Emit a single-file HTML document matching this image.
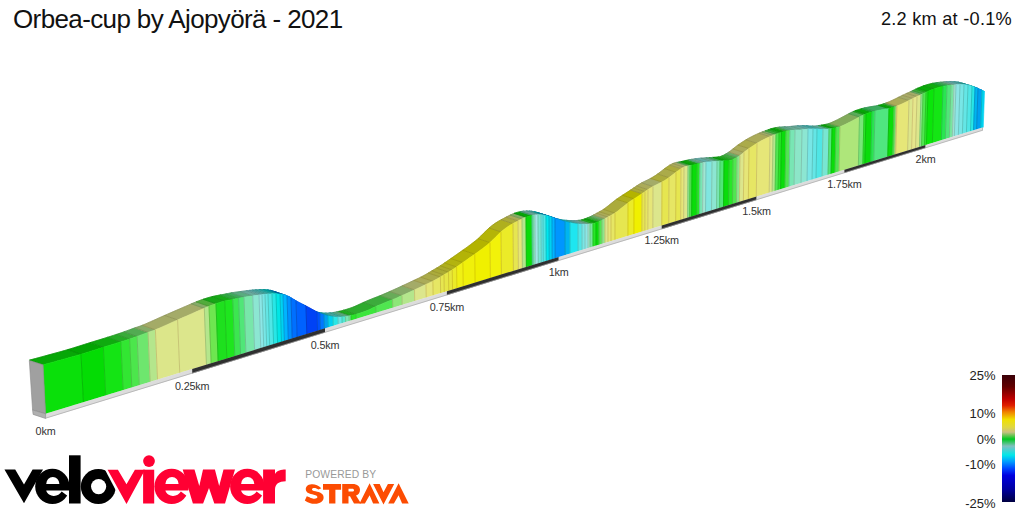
<!DOCTYPE html>
<html><head><meta charset="utf-8"><style>
html,body{margin:0;padding:0;background:#fff;}
body{width:1024px;height:512px;position:relative;overflow:hidden;font-family:"Liberation Sans",sans-serif;}
.t{position:absolute;white-space:nowrap;color:#111;}
#title{left:13px;top:3.5px;font-size:26px;letter-spacing:-0.62px;}
#sub{right:12px;top:8.5px;font-size:18.2px;letter-spacing:0.25px;}
#pw{position:absolute;left:305.3px;top:469px;font-size:10.3px;color:#999;letter-spacing:0.1px;white-space:nowrap;}
.lg{position:absolute;right:28.5px;font-size:13px;margin-top:0.5px;color:#222;text-align:right;}
#bar{position:absolute;left:1002px;top:375px;width:13px;height:127px;
background:linear-gradient(to bottom,#3a0008 0%,#600000 9%,#c00000 19%,#e02000 24%,#f08000 29%,#f0e000 35%,#e0d840 41%,#c8c080 45%,#00c820 50.5%,#80c0c0 56%,#00e8e8 63%,#00a0ff 68%,#0040ff 74%,#0000e0 79%,#0000a0 90%,#000040 100%);}
</style></head><body>
<svg width="1024" height="512" viewBox="0 0 1024 512" style="position:absolute;left:0;top:0">
<g stroke-width="0.6" stroke-linejoin="round">
<polygon points="43,364.81 45.92,364.04 48.85,363.24 51.77,362.44 54.69,361.64 57.62,360.83 60.54,360.02 63.46,359.21 66.38,358.41 69.31,357.61 72.23,356.8 75.15,355.98 78.08,355.14 81,354.28 67.68,349.65 64.74,350.5 61.81,351.34 58.88,352.15 55.95,352.95 53.01,353.75 50.08,354.55 47.15,355.35 44.21,356.16 41.28,356.96 38.35,357.75 35.42,358.55 32.48,359.34 29.55,360.11" fill="#07a707" stroke="#07a707"/>
<polygon points="81,354.28 83.8,353.44 86.6,352.57 89.4,351.69 92.2,350.8 95,349.9 97.8,349 100.6,348.11 103.4,347.23 90.15,342.64 87.34,343.52 84.53,344.4 81.72,345.3 78.91,346.19 76.11,347.08 73.3,347.95 70.49,348.81 67.68,349.65" fill="#03a403" stroke="#03a403"/>
<polygon points="103.4,347.23 106.32,346.32 109.23,345.43 112.15,344.53 115.07,343.63 117.98,342.73 120.9,341.82 107.71,337.26 104.78,338.17 101.86,339.06 98.93,339.96 96.01,340.85 93.08,341.74 90.15,342.64" fill="#0faa0f" stroke="#0faa0f"/>
<polygon points="120.9,341.82 123.8,340.89 126.7,339.94 129.6,338.98 116.44,334.44 113.53,335.39 110.62,336.34 107.71,337.26" fill="#25ab25" stroke="#25ab25"/>
<polygon points="129.6,338.98 132.1,338.14 134.6,337.29 137.1,336.41 123.96,331.88 121.46,332.75 118.95,333.6 116.44,334.44" fill="#39ab39" stroke="#39ab39"/>
<polygon points="137.1,336.41 139.82,335.41 142.55,334.4 145.28,333.38 148,332.39 134.9,327.88 132.17,328.87 129.43,329.88 126.7,330.89 123.96,331.88" fill="#52ab52" stroke="#52ab52"/>
<polygon points="148,332.39 150.47,331.55 152.93,330.73 155.4,329.8 142.33,325.3 139.85,326.23 137.38,327.05 134.9,327.88" fill="#86ab68" stroke="#86ab68"/>
<polygon points="155.4,329.8 158.18,328.62 160.95,327.41 163.72,326.17 166.5,324.92 169.28,323.66 172.05,322.4 174.82,321.16 177.6,319.92 164.6,315.46 161.82,316.69 159.03,317.94 156.25,319.19 153.46,320.44 150.68,321.69 147.89,322.92 145.11,324.13 142.33,325.3" fill="#a4ab67" stroke="#a4ab67"/>
<polygon points="177.6,319.92 180.57,318.61 183.53,317.31 186.5,316.01 189.47,314.71 192.43,313.42 195.4,312.12 198.37,310.83 201.33,309.54 204.3,308.25 191.39,303.84 188.41,305.13 185.44,306.41 182.46,307.7 179.48,308.99 176.51,310.28 173.53,311.57 170.55,312.86 167.58,314.16 164.6,315.46" fill="#a4ab68" stroke="#a4ab68"/>
<polygon points="204.3,308.25 206.65,307.24 209,306.28 196.11,301.88 193.75,302.84 191.39,303.84" fill="#86ab68" stroke="#86ab68"/>
<polygon points="209,306.28 211.33,305.37 213.67,304.49 216,303.67 203.13,299.28 200.79,300.1 198.45,300.97 196.11,301.88" fill="#52ab3c" stroke="#52ab3c"/>
<polygon points="216,303.67 218.92,302.72 221.83,301.83 224.75,301.04 211.91,296.67 208.98,297.46 206.06,298.33 203.13,299.28" fill="#16a716" stroke="#16a716"/>
<polygon points="224.75,301.04 227.42,300.42 230.08,299.89 232.75,299.38 219.94,295.03 217.26,295.53 214.58,296.05 211.91,296.67" fill="#16ab16" stroke="#16ab16"/>
<polygon points="232.75,299.38 235.68,298.86 238.6,298.33 225.8,293.98 222.87,294.51 219.94,295.03" fill="#2dab3c" stroke="#2dab3c"/>
<polygon points="238.6,298.33 241.3,297.75 244,297.19 231.22,292.85 228.51,293.4 225.8,293.98" fill="#3cab59" stroke="#3cab59"/>
<polygon points="244,297.19 246.92,296.72 249.83,296.31 252.75,295.91 240,291.59 237.08,291.99 234.15,292.39 231.22,292.85" fill="#59ab7f" stroke="#59ab7f"/>
<polygon points="252.75,295.91 254.83,295.61 256.92,295.32 259,295.04 246.27,290.73 244.18,291 242.09,291.29 240,291.59" fill="#68ab9c" stroke="#68ab9c"/>
<polygon points="259,295.04 262,294.68 249.28,290.38 246.27,290.73" fill="#68abab" stroke="#68abab"/>
<polygon points="262,294.68 265,294.34 252.29,290.04 249.28,290.38" fill="#59abab" stroke="#59abab"/>
<polygon points="265,294.34 268,294.06 255.3,289.77 252.29,290.04" fill="#4aabab" stroke="#4aabab"/>
<polygon points="268,294.06 270,293.94 272,293.85 259.32,289.57 257.31,289.65 255.3,289.77" fill="#3cabab" stroke="#3cabab"/>
<polygon points="272,293.85 274,293.8 276,293.81 263.33,289.53 261.32,289.52 259.32,289.57" fill="#1eabab" stroke="#1eabab"/>
<polygon points="276,293.81 278,293.89 280,294.08 267.34,289.8 265.34,289.61 263.33,289.53" fill="#00abab" stroke="#00abab"/>
<polygon points="280,294.08 283,294.58 270.35,290.31 267.34,289.8" fill="#009cb3" stroke="#009cb3"/>
<polygon points="283,294.58 285,295.08 287,295.75 274.37,291.49 272.36,290.82 270.35,290.31" fill="#0086be" stroke="#0086be"/>
<polygon points="287,295.75 289,296.62 291,297.72 278.38,293.47 276.37,292.36 274.37,291.49" fill="#006bbe" stroke="#006bbe"/>
<polygon points="291,297.72 293.5,299.28 296,300.78 283.4,296.54 280.89,295.03 278.38,293.47" fill="#0053be" stroke="#0053be"/>
<polygon points="296,300.78 298.5,302.14 301,303.45 303.5,304.74 306,306.04 293.43,301.82 290.92,300.51 288.41,299.21 285.91,297.91 283.4,296.54" fill="#0049be" stroke="#0049be"/>
<polygon points="306,306.04 308.75,307.48 311.5,308.94 314.25,310.5 317,312.06 304.47,307.85 301.71,306.29 298.95,304.72 296.19,303.26 293.43,301.82" fill="#0031b7" stroke="#0031b7"/>
<polygon points="317,312.06 320,313.3 307.48,309.1 304.47,307.85" fill="#003cbe" stroke="#003cbe"/>
<polygon points="320,313.3 322,313.97 324,314.72 311.49,310.53 309.48,309.78 307.48,309.1" fill="#0059be" stroke="#0059be"/>
<polygon points="324,314.72 326,315.4 328,315.93 315.5,311.74 313.5,311.21 311.49,310.53" fill="#0077b3" stroke="#0077b3"/>
<polygon points="328,315.93 330.5,316.46 333,316.89 320.52,312.71 318.01,312.28 315.5,311.74" fill="#009bb3" stroke="#009bb3"/>
<polygon points="333,316.89 335.5,317.15 338,317.23 325.54,313.06 323.03,312.98 320.52,312.71" fill="#1eabab" stroke="#1eabab"/>
<polygon points="338,317.23 340,317.16 342,317.02 329.55,312.86 327.54,313 325.54,313.06" fill="#4aabab" stroke="#4aabab"/>
<polygon points="342,317.02 343.75,316.86 345.5,316.68 333.06,312.52 331.31,312.71 329.55,312.86" fill="#3cab9c" stroke="#3cab9c"/>
<polygon points="345.5,316.68 347.25,316.38 349,316.01 336.57,311.86 334.82,312.23 333.06,312.52" fill="#59ab86" stroke="#59ab86"/>
<polygon points="349,316.01 351,315.59 338.58,311.44 336.57,311.86" fill="#59ab77" stroke="#59ab77"/>
<polygon points="351,315.59 353.5,315.02 356,314.34 343.6,310.2 341.09,310.88 338.58,311.44" fill="#1eab1e" stroke="#1eab1e"/>
<polygon points="356,314.34 358.82,313.5 361.64,312.61 364.46,311.62 367.29,310.48 370.11,309.21 372.93,307.87 375.75,306.56 363.41,302.46 360.58,303.76 357.75,305.1 354.92,306.37 352.09,307.5 349.26,308.48 346.43,309.37 343.6,310.2" fill="#2dab2d" stroke="#2dab2d"/>
<polygon points="375.75,306.56 378.56,305.33 381.37,304.14 384.18,302.98 386.98,301.87 389.79,300.78 392.6,299.66 380.32,295.59 377.5,296.71 374.68,297.79 371.87,298.9 369.05,300.05 366.23,301.23 363.41,302.46" fill="#3cab3c" stroke="#3cab3c"/>
<polygon points="392.6,299.66 394.95,298.67 397.3,297.66 399.65,296.62 402,295.58 389.75,291.53 387.39,292.57 385.04,293.6 382.68,294.6 380.32,295.59" fill="#68ab59" stroke="#68ab59"/>
<polygon points="402,295.58 404.5,294.46 407,293.33 409.5,292.19 412,291.04 414.5,289.88 402.29,285.85 399.79,287 397.28,288.15 394.77,289.28 392.26,290.41 389.75,291.53" fill="#86ab68" stroke="#86ab68"/>
<polygon points="414.5,289.88 417.38,288.53 420.25,287.16 423.12,285.79 426,284.43 413.83,280.43 410.95,281.78 408.06,283.15 405.18,284.51 402.29,285.85" fill="#a4ab68" stroke="#a4ab68"/>
<polygon points="426,284.43 428.3,283.38 430.6,282.32 432.9,281.2 420.76,277.2 418.45,278.32 416.14,279.37 413.83,280.43" fill="#abab59" stroke="#abab59"/>
<polygon points="432.9,281.2 435.4,279.87 437.9,278.46 440.4,277.01 428.28,273.03 425.77,274.47 423.26,275.87 420.76,277.2" fill="#abab4a" stroke="#abab4a"/>
<polygon points="440.4,277.01 442.2,275.92 444,274.82 431.89,270.84 430.09,271.94 428.28,273.03" fill="#abab3c" stroke="#abab3c"/>
<polygon points="444,274.82 446.25,273.49 448.5,272.16 436.41,268.19 434.15,269.51 431.89,270.84" fill="#abab34" stroke="#abab34"/>
<polygon points="448.5,272.16 450.38,271.02 452.25,269.85 440.17,265.89 438.29,267.06 436.41,268.19" fill="#abab2d" stroke="#abab2d"/>
<polygon points="452.25,269.85 454.43,268.41 456.6,266.93 444.53,262.97 442.35,264.46 440.17,265.89" fill="#afaf1e" stroke="#afaf1e"/>
<polygon points="456.6,266.93 458.7,265.47 460.8,264 462.9,262.52 450.86,258.58 448.75,260.05 446.64,261.52 444.53,262.97" fill="#b3b30f" stroke="#b3b30f"/>
<polygon points="462.9,262.52 465.86,260.44 468.82,258.37 471.79,256.29 474.75,254.2 462.75,250.28 459.77,252.36 456.8,254.44 453.83,256.51 450.86,258.58" fill="#b3b307" stroke="#b3b307"/>
<polygon points="474.75,254.2 477.29,252.41 479.83,250.56 482.38,248.65 484.92,246.71 487.46,244.71 490,242.58 478.05,238.69 475.5,240.82 472.95,242.81 470.4,244.74 467.85,246.65 465.3,248.49 462.75,250.28" fill="#b3b300" stroke="#b3b300"/>
<polygon points="490,242.58 492.75,239.95 495.5,237.15 498.25,234.45 501,231.87 489.08,228 486.32,230.57 483.56,233.26 480.81,236.06 478.05,238.69" fill="#b4b407" stroke="#b4b407"/>
<polygon points="501,231.87 504,229.38 507,227.2 510,225.28 513,223.6 501.12,219.75 498.11,221.43 495.1,223.34 492.09,225.52 489.08,228" fill="#afaf1e" stroke="#afaf1e"/>
<polygon points="513,223.6 515.5,222.25 518,220.96 506.14,217.12 503.63,218.41 501.12,219.75" fill="#abab3c" stroke="#abab3c"/>
<polygon points="518,220.96 520,219.92 522,218.91 510.15,215.08 508.15,216.08 506.14,217.12" fill="#abab59" stroke="#abab59"/>
<polygon points="522,218.91 524,217.98 526,217.14 514.17,213.31 512.16,214.15 510.15,215.08" fill="#86ab68" stroke="#86ab68"/>
<polygon points="526,217.14 529,216.22 532,215.51 520.19,211.69 517.18,212.4 514.17,213.31" fill="#07a407" stroke="#07a407"/>
<polygon points="532,215.51 533,215.29 521.19,211.48 520.19,211.69" fill="#3cab77" stroke="#3cab77"/>
<polygon points="533,215.29 535,214.95 523.2,211.14 521.19,211.48" fill="#59ab86" stroke="#59ab86"/>
<polygon points="535,214.95 538,214.72 526.21,210.91 523.2,211.14" fill="#77abab" stroke="#77abab"/>
<polygon points="538,214.72 541,214.76 529.22,210.96 526.21,210.91" fill="#59ab9c" stroke="#59ab9c"/>
<polygon points="541,214.76 543,214.94 531.22,211.15 529.22,210.96" fill="#4aabab" stroke="#4aabab"/>
<polygon points="543,214.94 546,215.46 534.23,211.67 531.22,211.15" fill="#3cabab" stroke="#3cabab"/>
<polygon points="546,215.46 549,216.27 537.24,212.49 534.23,211.67" fill="#00abb3" stroke="#00abb3"/>
<polygon points="549,216.27 552,217.2 540.25,213.42 537.24,212.49" fill="#009cb3" stroke="#009cb3"/>
<polygon points="552,217.2 555,218.21 543.26,214.44 540.25,213.42" fill="#0086be" stroke="#0086be"/>
<polygon points="555,218.21 557.5,219.11 560,220 562.5,220.88 565,221.7 553.3,217.95 550.79,217.12 548.28,216.23 545.77,215.34 543.26,214.44" fill="#0070be" stroke="#0070be"/>
<polygon points="565,221.7 567.5,222.36 570,222.91 558.31,219.16 555.81,218.61 553.3,217.95" fill="#0086b3" stroke="#0086b3"/>
<polygon points="570,222.91 572.67,223.39 575.33,223.77 578,224.06 566.34,220.32 563.67,220.03 560.99,219.65 558.31,219.16" fill="#16abb3" stroke="#16abb3"/>
<polygon points="578,224.06 580,224.2 582,224.29 570.35,220.57 568.35,220.47 566.34,220.32" fill="#3cabab" stroke="#3cabab"/>
<polygon points="582,224.29 585,224.33 573.36,220.61 570.35,220.57" fill="#59abab" stroke="#59abab"/>
<polygon points="585,224.33 588,224.23 576.37,220.52 573.36,220.61" fill="#68abab" stroke="#68abab"/>
<polygon points="588,224.23 590,224.08 578.38,220.37 576.37,220.52" fill="#77ab9c" stroke="#77ab9c"/>
<polygon points="590,224.08 593,223.63 581.39,219.92 578.38,220.37" fill="#59ab77" stroke="#59ab77"/>
<polygon points="593,223.63 596,222.77 584.4,219.07 581.39,219.92" fill="#1eab1e" stroke="#1eab1e"/>
<polygon points="596,222.77 599,221.59 587.41,217.9 584.4,219.07" fill="#07a407" stroke="#07a407"/>
<polygon points="599,221.59 602,220.27 590.42,216.58 587.41,217.9" fill="#3cab3c" stroke="#3cab3c"/>
<polygon points="602,220.27 605,218.75 593.43,215.06 590.42,216.58" fill="#68ab68" stroke="#68ab68"/>
<polygon points="605,218.75 608,217.07 596.44,213.39 593.43,215.06" fill="#a4ab68" stroke="#a4ab68"/>
<polygon points="608,217.07 611,215.45 599.45,211.77 596.44,213.39" fill="#abab59" stroke="#abab59"/>
<polygon points="611,215.45 613,214.31 615,213.07 603.46,209.4 601.46,210.64 599.45,211.77" fill="#abab4a" stroke="#abab4a"/>
<polygon points="615,213.07 617.6,211.18 620.2,209.12 622.8,207.02 625.4,204.94 628,202.94 616.51,199.3 613.9,201.29 611.29,203.37 608.68,205.46 606.07,207.51 603.46,209.4" fill="#abab3c" stroke="#abab3c"/>
<polygon points="628,202.94 631,200.86 634,198.9 622.53,195.27 619.52,197.22 616.51,199.3" fill="#afaf1e" stroke="#afaf1e"/>
<polygon points="634,198.9 636.67,197.17 639.33,195.44 642,193.69 630.56,190.08 627.88,191.82 625.2,193.54 622.53,195.27" fill="#b3b300" stroke="#b3b300"/>
<polygon points="642,193.69 645,191.65 633.57,188.04 630.56,190.08" fill="#abab3c" stroke="#abab3c"/>
<polygon points="645,191.65 648,189.6 636.58,186 633.57,188.04" fill="#abab4a" stroke="#abab4a"/>
<polygon points="648,189.6 650.5,187.96 653,186.48 641.59,182.89 639.08,184.36 636.58,186" fill="#abab59" stroke="#abab59"/>
<polygon points="653,186.48 656,184.97 659,183.53 662,181.99 650.62,178.4 647.61,179.95 644.6,181.38 641.59,182.89" fill="#a4ab68" stroke="#a4ab68"/>
<polygon points="662,181.99 664.33,180.64 666.67,179.17 669,177.58 657.65,174.01 655.3,175.6 652.96,177.06 650.62,178.4" fill="#abab3c" stroke="#abab3c"/>
<polygon points="669,177.58 671.33,175.82 673.67,173.95 676,172.18 664.67,168.62 662.33,170.39 659.99,172.25 657.65,174.01" fill="#abab4a" stroke="#abab4a"/>
<polygon points="676,172.18 678.5,170.39 681,168.71 669.69,165.17 667.18,166.84 664.67,168.62" fill="#abab3c" stroke="#abab3c"/>
<polygon points="681,168.71 684,167.1 672.7,163.56 669.69,165.17" fill="#abab59" stroke="#abab59"/>
<polygon points="684,167.1 686,166.41 688,165.96 676.71,162.42 674.7,162.87 672.7,163.56" fill="#a4ab68" stroke="#a4ab68"/>
<polygon points="688,165.96 690,165.61 678.72,162.08 676.71,162.42" fill="#68ab68" stroke="#68ab68"/>
<polygon points="690,165.61 692,165.23 680.72,161.7 678.72,162.08" fill="#3cab3c" stroke="#3cab3c"/>
<polygon points="692,165.23 694.5,164.65 697,164.05 685.74,160.53 683.23,161.12 680.72,161.7" fill="#07a407" stroke="#07a407"/>
<polygon points="697,164.05 700,163.4 688.75,159.88 685.74,160.53" fill="#1eab1e" stroke="#1eab1e"/>
<polygon points="700,163.4 703,162.83 691.76,159.32 688.75,159.88" fill="#59ab86" stroke="#59ab86"/>
<polygon points="703,162.83 706,162.34 694.77,158.84 691.76,159.32" fill="#77ab9c" stroke="#77ab9c"/>
<polygon points="706,162.34 709,161.95 712,161.66 700.79,158.17 697.78,158.45 694.77,158.84" fill="#5faba7" stroke="#5faba7"/>
<polygon points="712,161.66 714.5,161.47 717,161.3 705.81,157.81 703.3,157.98 700.79,158.17" fill="#68ab9c" stroke="#68ab9c"/>
<polygon points="717,161.3 720,161.13 708.82,157.65 705.81,157.81" fill="#59ab86" stroke="#59ab86"/>
<polygon points="720,161.13 722,161.02 724,160.87 712.83,157.4 710.82,157.54 708.82,157.65" fill="#3cab59" stroke="#3cab59"/>
<polygon points="724,160.87 726.5,160.71 729,160.5 717.85,157.04 715.34,157.24 712.83,157.4" fill="#07a407" stroke="#07a407"/>
<polygon points="729,160.5 731,160.14 733,159.48 721.86,156.03 719.85,156.68 717.85,157.04" fill="#1eab1e" stroke="#1eab1e"/>
<polygon points="733,159.48 735,158.55 737,157.43 725.87,153.98 723.87,155.1 721.86,156.03" fill="#3cab3c" stroke="#3cab3c"/>
<polygon points="737,157.43 740,155.53 728.88,152.09 725.87,153.98" fill="#68ab68" stroke="#68ab68"/>
<polygon points="740,155.53 742,154.02 744,152.37 732.9,148.94 730.89,150.59 728.88,152.09" fill="#a4ab68" stroke="#a4ab68"/>
<polygon points="744,152.37 746.5,150.37 749,148.51 737.91,145.08 735.4,146.94 732.9,148.94" fill="#abab59" stroke="#abab59"/>
<polygon points="749,148.51 751.67,146.68 754.33,144.92 757,143.23 745.94,139.82 743.26,141.5 740.59,143.26 737.91,145.08" fill="#abab4a" stroke="#abab4a"/>
<polygon points="757,143.23 759.6,141.71 762.2,140.31 764.8,139.01 767.4,137.78 770,136.63 758.98,133.24 756.37,134.38 753.77,135.61 751.16,136.91 748.55,138.3 745.94,139.82" fill="#abab59" stroke="#abab59"/>
<polygon points="770,136.63 773,135.4 761.99,132.02 758.98,133.24" fill="#a4ab68" stroke="#a4ab68"/>
<polygon points="773,135.4 776,134.28 765,130.9 761.99,132.02" fill="#86ab68" stroke="#86ab68"/>
<polygon points="776,134.28 779,133.19 768.01,129.82 765,130.9" fill="#3cab3c" stroke="#3cab3c"/>
<polygon points="779,133.19 781.5,132.33 770.52,128.96 768.01,129.82" fill="#1eab1e" stroke="#1eab1e"/>
<polygon points="781.5,132.33 783.75,131.67 786,131.16 775.04,127.8 772.78,128.31 770.52,128.96" fill="#07a407" stroke="#07a407"/>
<polygon points="786,131.16 788,130.8 790,130.52 779.05,127.17 777.04,127.45 775.04,127.8" fill="#3cab3c" stroke="#3cab3c"/>
<polygon points="790,130.52 792.5,130.26 795,130.11 784.07,126.77 781.56,126.91 779.05,127.17" fill="#59ab86" stroke="#59ab86"/>
<polygon points="795,130.11 797.33,130.04 799.67,129.93 802,129.72 791.09,126.39 788.75,126.6 786.41,126.7 784.07,126.77" fill="#68ab95" stroke="#68ab95"/>
<polygon points="802,129.72 805,129.36 808,129.07 797.11,125.75 794.1,126.03 791.09,126.39" fill="#68ab9c" stroke="#68ab9c"/>
<polygon points="808,129.07 810.5,128.94 813,128.89 802.13,125.58 799.62,125.63 797.11,125.75" fill="#59abab" stroke="#59abab"/>
<polygon points="813,128.89 815,128.89 817,128.95 806.14,125.65 804.13,125.59 802.13,125.58" fill="#4aabab" stroke="#4aabab"/>
<polygon points="817,128.95 820,129.18 823,129.35 812.16,126.06 809.15,125.88 806.14,125.65" fill="#3cabab" stroke="#3cabab"/>
<polygon points="823,129.35 826,129.24 829,128.9 818.18,125.62 815.17,125.96 812.16,126.06" fill="#59ab9c" stroke="#59ab9c"/>
<polygon points="829,128.9 832,128.47 821.19,125.2 818.18,125.62" fill="#3cab59" stroke="#3cab59"/>
<polygon points="832,128.47 834,128.12 836,127.7 825.2,124.44 823.2,124.85 821.19,125.2" fill="#07a407" stroke="#07a407"/>
<polygon points="836,127.7 838,127.26 840,126.67 829.22,123.41 827.21,124 825.2,124.44" fill="#3cab3c" stroke="#3cab3c"/>
<polygon points="840,126.67 842.79,125.53 845.57,124.24 848.36,122.87 851.14,121.41 853.93,119.89 856.71,118.4 859.5,116.95 848.78,113.73 845.99,115.17 843.19,116.66 840.4,118.17 837.6,119.63 834.81,120.99 832.01,122.28 829.22,123.41" fill="#82ab5b" stroke="#82ab5b"/>
<polygon points="859.5,116.95 861.75,115.78 864,114.71 853.3,111.5 851.04,112.56 848.78,113.73" fill="#59ab59" stroke="#59ab59"/>
<polygon points="864,114.71 866,113.91 855.3,110.7 853.3,111.5" fill="#1eab1e" stroke="#1eab1e"/>
<polygon points="866,113.91 869,112.84 872,111.91 861.33,108.71 858.32,109.63 855.3,110.7" fill="#07a407" stroke="#07a407"/>
<polygon points="872,111.91 875,111.14 864.34,107.94 861.33,108.71" fill="#1eab3c" stroke="#1eab3c"/>
<polygon points="875,111.14 877.8,110.54 880.6,109.99 883.4,109.54 886.2,109.08 889,108.49 878.38,105.32 875.57,105.91 872.76,106.36 869.95,106.81 867.14,107.35 864.34,107.94" fill="#3cab5f" stroke="#3cab5f"/>
<polygon points="889,108.49 891.5,107.84 894,107.09 883.4,103.93 880.89,104.67 878.38,105.32" fill="#07a407" stroke="#07a407"/>
<polygon points="894,107.09 896,106.41 885.41,103.25 883.4,103.93" fill="#3cab3c" stroke="#3cab3c"/>
<polygon points="896,106.41 897,106.03 886.41,102.87 885.41,103.25" fill="#86ab68" stroke="#86ab68"/>
<polygon points="897,106.03 900,104.78 903,103.41 906,101.98 909,100.47 898.45,97.33 895.44,98.84 892.43,100.26 889.42,101.63 886.41,102.87" fill="#abab59" stroke="#abab59"/>
<polygon points="909,100.47 911,99.47 913,98.48 902.46,95.35 900.46,96.34 898.45,97.33" fill="#a4ab68" stroke="#a4ab68"/>
<polygon points="913,98.48 915,97.5 917,96.57 906.48,93.45 904.47,94.38 902.46,95.35" fill="#abab68" stroke="#abab68"/>
<polygon points="917,96.57 919,95.68 921,94.77 910.49,91.66 908.48,92.56 906.48,93.45" fill="#a4ab68" stroke="#a4ab68"/>
<polygon points="921,94.77 923,93.8 912.5,90.69 910.49,91.66" fill="#68ab68" stroke="#68ab68"/>
<polygon points="923,93.8 926,92.33 915.51,89.22 912.5,90.69" fill="#3cab3c" stroke="#3cab3c"/>
<polygon points="926,92.33 928,91.4 917.51,88.3 915.51,89.22" fill="#1eab1e" stroke="#1eab1e"/>
<polygon points="928,91.4 931,90.11 934,88.93 923.53,85.84 920.52,87.01 917.51,88.3" fill="#07ab07" stroke="#07ab07"/>
<polygon points="934,88.93 937,87.92 940,87.08 943,86.4 932.56,83.32 929.55,84 926.54,84.83 923.53,85.84" fill="#0fab0f" stroke="#0fab0f"/>
<polygon points="943,86.4 945,86.02 947,85.72 936.58,82.65 934.57,82.95 932.56,83.32" fill="#1eab3c" stroke="#1eab3c"/>
<polygon points="947,85.72 949,85.47 951,85.25 940.59,82.19 938.58,82.41 936.58,82.65" fill="#3cab59" stroke="#3cab59"/>
<polygon points="951,85.25 954,84.94 943.6,81.89 940.59,82.19" fill="#59ab77" stroke="#59ab77"/>
<polygon points="954,84.94 956,84.76 945.61,81.71 943.6,81.89" fill="#77ab9c" stroke="#77ab9c"/>
<polygon points="956,84.76 958,84.62 960,84.55 949.62,81.5 947.61,81.57 945.61,81.71" fill="#68abab" stroke="#68abab"/>
<polygon points="960,84.55 962,84.53 964,84.58 953.63,81.54 951.63,81.49 949.62,81.5" fill="#59abab" stroke="#59abab"/>
<polygon points="964,84.58 966,84.72 968,85.02 957.65,81.99 955.64,81.69 953.63,81.54" fill="#4aabab" stroke="#4aabab"/>
<polygon points="968,85.02 970,85.49 972,86.12 961.66,83.1 959.65,82.47 957.65,81.99" fill="#3cabab" stroke="#3cabab"/>
<polygon points="972,86.12 975,87.22 964.67,84.2 961.66,83.1" fill="#1eabab" stroke="#1eabab"/>
<polygon points="975,87.22 978,88.45 967.68,85.44 964.67,84.2" fill="#0086b3" stroke="#0086b3"/>
<polygon points="978,88.45 980,89.37 982,90.32 971.69,87.32 969.69,86.36 967.68,85.44" fill="#0077b3" stroke="#0077b3"/>
<polygon points="982,90.32 984.5,91.56 974.2,88.56 971.69,87.32" fill="#009cb3" stroke="#009cb3"/>
</g>
<g stroke-width="0.7" stroke-linecap="butt">
<line x1="43" y1="364.81" x2="29.55" y2="360.11" stroke="#068b06"/>
<line x1="81" y1="354.28" x2="67.68" y2="349.65" stroke="#038802"/>
<line x1="103.4" y1="347.23" x2="90.15" y2="342.64" stroke="#0d8d0c"/>
<line x1="120.9" y1="341.82" x2="107.71" y2="337.26" stroke="#208f1d"/>
<line x1="129.6" y1="338.98" x2="116.44" y2="334.44" stroke="#318f2c"/>
<line x1="137.1" y1="336.41" x2="123.96" y2="331.88" stroke="#468f40"/>
<line x1="148" y1="332.39" x2="134.9" y2="327.88" stroke="#738f51"/>
<line x1="155.4" y1="329.8" x2="142.33" y2="325.3" stroke="#8d8f50"/>
<line x1="177.6" y1="319.92" x2="164.6" y2="315.46" stroke="#8d8f51"/>
<line x1="204.3" y1="308.25" x2="191.39" y2="303.84" stroke="#738f51"/>
<line x1="209" y1="306.28" x2="196.11" y2="301.88" stroke="#468f2e"/>
<line x1="216" y1="303.67" x2="203.13" y2="299.28" stroke="#138b11"/>
<line x1="224.75" y1="301.04" x2="211.91" y2="296.67" stroke="#138f11"/>
<line x1="232.75" y1="299.38" x2="219.94" y2="295.03" stroke="#268f2e"/>
<line x1="238.6" y1="298.33" x2="225.8" y2="293.98" stroke="#338f46"/>
<line x1="244" y1="297.19" x2="231.22" y2="292.85" stroke="#4d8f63"/>
<line x1="252.75" y1="295.91" x2="240" y2="291.59" stroke="#5a8f7a"/>
<line x1="259" y1="295.04" x2="246.27" y2="290.73" stroke="#5a8f85"/>
<line x1="262" y1="294.68" x2="249.28" y2="290.38" stroke="#4d8f85"/>
<line x1="265" y1="294.34" x2="252.29" y2="290.04" stroke="#408f85"/>
<line x1="268" y1="294.06" x2="255.3" y2="289.77" stroke="#338f85"/>
<line x1="272" y1="293.85" x2="259.32" y2="289.57" stroke="#1a8f85"/>
<line x1="276" y1="293.81" x2="263.33" y2="289.53" stroke="#008f85"/>
<line x1="280" y1="294.08" x2="267.34" y2="289.8" stroke="#00828b"/>
<line x1="283" y1="294.58" x2="270.35" y2="290.31" stroke="#007094"/>
<line x1="287" y1="295.75" x2="274.37" y2="291.49" stroke="#005994"/>
<line x1="291" y1="297.72" x2="278.38" y2="293.47" stroke="#004594"/>
<line x1="296" y1="300.78" x2="283.4" y2="296.54" stroke="#003d94"/>
<line x1="306" y1="306.04" x2="293.43" y2="301.82" stroke="#00298e"/>
<line x1="317" y1="312.06" x2="304.47" y2="307.85" stroke="#003294"/>
<line x1="320" y1="313.3" x2="307.48" y2="309.1" stroke="#004a94"/>
<line x1="324" y1="314.72" x2="311.49" y2="310.53" stroke="#00638b"/>
<line x1="328" y1="315.93" x2="315.5" y2="311.74" stroke="#00818b"/>
<line x1="333" y1="316.89" x2="320.52" y2="312.71" stroke="#1a8f85"/>
<line x1="338" y1="317.23" x2="325.54" y2="313.06" stroke="#408f85"/>
<line x1="342" y1="317.02" x2="329.55" y2="312.86" stroke="#338f7a"/>
<line x1="345.5" y1="316.68" x2="333.06" y2="312.52" stroke="#4d8f68"/>
<line x1="349" y1="316.01" x2="336.57" y2="311.86" stroke="#4d8f5d"/>
<line x1="351" y1="315.59" x2="338.58" y2="311.44" stroke="#1a8f17"/>
<line x1="356" y1="314.34" x2="343.6" y2="310.2" stroke="#268f23"/>
<line x1="375.75" y1="306.56" x2="363.41" y2="302.46" stroke="#338f2e"/>
<line x1="392.6" y1="299.66" x2="380.32" y2="295.59" stroke="#5a8f46"/>
<line x1="402" y1="295.58" x2="389.75" y2="291.53" stroke="#738f51"/>
<line x1="414.5" y1="289.88" x2="402.29" y2="285.85" stroke="#8d8f51"/>
<line x1="426" y1="284.43" x2="413.83" y2="280.43" stroke="#938f46"/>
<line x1="432.9" y1="281.2" x2="420.76" y2="277.2" stroke="#938f3a"/>
<line x1="440.4" y1="277.01" x2="428.28" y2="273.03" stroke="#938f2e"/>
<line x1="444" y1="274.82" x2="431.89" y2="270.84" stroke="#938f29"/>
<line x1="448.5" y1="272.16" x2="436.41" y2="268.19" stroke="#938f23"/>
<line x1="452.25" y1="269.85" x2="440.17" y2="265.89" stroke="#969217"/>
<line x1="456.6" y1="266.93" x2="444.53" y2="262.97" stroke="#9a950c"/>
<line x1="462.9" y1="262.52" x2="450.86" y2="258.58" stroke="#9a9506"/>
<line x1="474.75" y1="254.2" x2="462.75" y2="250.28" stroke="#9a9500"/>
<line x1="490" y1="242.58" x2="478.05" y2="238.69" stroke="#9b9606"/>
<line x1="501" y1="231.87" x2="489.08" y2="228" stroke="#969217"/>
<line x1="513" y1="223.6" x2="501.12" y2="219.75" stroke="#938f2e"/>
<line x1="518" y1="220.96" x2="506.14" y2="217.12" stroke="#938f46"/>
<line x1="522" y1="218.91" x2="510.15" y2="215.08" stroke="#738f51"/>
<line x1="526" y1="217.14" x2="514.17" y2="213.31" stroke="#068806"/>
<line x1="532" y1="215.51" x2="520.19" y2="211.69" stroke="#338f5d"/>
<line x1="533" y1="215.29" x2="521.19" y2="211.48" stroke="#4d8f68"/>
<line x1="535" y1="214.95" x2="523.2" y2="211.14" stroke="#668f85"/>
<line x1="538" y1="214.72" x2="526.21" y2="210.91" stroke="#4d8f7a"/>
<line x1="541" y1="214.76" x2="529.22" y2="210.96" stroke="#408f85"/>
<line x1="543" y1="214.94" x2="531.22" y2="211.15" stroke="#338f85"/>
<line x1="546" y1="215.46" x2="534.23" y2="211.67" stroke="#008f8b"/>
<line x1="549" y1="216.27" x2="537.24" y2="212.49" stroke="#00828b"/>
<line x1="552" y1="217.2" x2="540.25" y2="213.42" stroke="#007094"/>
<line x1="555" y1="218.21" x2="543.26" y2="214.44" stroke="#005d94"/>
<line x1="565" y1="221.7" x2="553.3" y2="217.95" stroke="#00708b"/>
<line x1="570" y1="222.91" x2="558.31" y2="219.16" stroke="#138f8b"/>
<line x1="578" y1="224.06" x2="566.34" y2="220.32" stroke="#338f85"/>
<line x1="582" y1="224.29" x2="570.35" y2="220.57" stroke="#4d8f85"/>
<line x1="585" y1="224.33" x2="573.36" y2="220.61" stroke="#5a8f85"/>
<line x1="588" y1="224.23" x2="576.37" y2="220.52" stroke="#668f7a"/>
<line x1="590" y1="224.08" x2="578.38" y2="220.37" stroke="#4d8f5d"/>
<line x1="593" y1="223.63" x2="581.39" y2="219.92" stroke="#1a8f17"/>
<line x1="596" y1="222.77" x2="584.4" y2="219.07" stroke="#068806"/>
<line x1="599" y1="221.59" x2="587.41" y2="217.9" stroke="#338f2e"/>
<line x1="602" y1="220.27" x2="590.42" y2="216.58" stroke="#5a8f51"/>
<line x1="605" y1="218.75" x2="593.43" y2="215.06" stroke="#8d8f51"/>
<line x1="608" y1="217.07" x2="596.44" y2="213.39" stroke="#938f46"/>
<line x1="611" y1="215.45" x2="599.45" y2="211.77" stroke="#938f3a"/>
<line x1="615" y1="213.07" x2="603.46" y2="209.4" stroke="#938f2e"/>
<line x1="628" y1="202.94" x2="616.51" y2="199.3" stroke="#969217"/>
<line x1="634" y1="198.9" x2="622.53" y2="195.27" stroke="#9a9500"/>
<line x1="642" y1="193.69" x2="630.56" y2="190.08" stroke="#938f2e"/>
<line x1="645" y1="191.65" x2="633.57" y2="188.04" stroke="#938f3a"/>
<line x1="648" y1="189.6" x2="636.58" y2="186" stroke="#938f46"/>
<line x1="653" y1="186.48" x2="641.59" y2="182.89" stroke="#8d8f51"/>
<line x1="662" y1="181.99" x2="650.62" y2="178.4" stroke="#938f2e"/>
<line x1="669" y1="177.58" x2="657.65" y2="174.01" stroke="#938f3a"/>
<line x1="676" y1="172.18" x2="664.67" y2="168.62" stroke="#938f2e"/>
<line x1="681" y1="168.71" x2="669.69" y2="165.17" stroke="#938f46"/>
<line x1="684" y1="167.1" x2="672.7" y2="163.56" stroke="#8d8f51"/>
<line x1="688" y1="165.96" x2="676.71" y2="162.42" stroke="#5a8f51"/>
<line x1="690" y1="165.61" x2="678.72" y2="162.08" stroke="#338f2e"/>
<line x1="692" y1="165.23" x2="680.72" y2="161.7" stroke="#068806"/>
<line x1="697" y1="164.05" x2="685.74" y2="160.53" stroke="#1a8f17"/>
<line x1="700" y1="163.4" x2="688.75" y2="159.88" stroke="#4d8f68"/>
<line x1="703" y1="162.83" x2="691.76" y2="159.32" stroke="#668f7a"/>
<line x1="706" y1="162.34" x2="694.77" y2="158.84" stroke="#528f82"/>
<line x1="712" y1="161.66" x2="700.79" y2="158.17" stroke="#5a8f7a"/>
<line x1="717" y1="161.3" x2="705.81" y2="157.81" stroke="#4d8f68"/>
<line x1="720" y1="161.13" x2="708.82" y2="157.65" stroke="#338f46"/>
<line x1="724" y1="160.87" x2="712.83" y2="157.4" stroke="#068806"/>
<line x1="729" y1="160.5" x2="717.85" y2="157.04" stroke="#1a8f17"/>
<line x1="733" y1="159.48" x2="721.86" y2="156.03" stroke="#338f2e"/>
<line x1="737" y1="157.43" x2="725.87" y2="153.98" stroke="#5a8f51"/>
<line x1="740" y1="155.53" x2="728.88" y2="152.09" stroke="#8d8f51"/>
<line x1="744" y1="152.37" x2="732.9" y2="148.94" stroke="#938f46"/>
<line x1="749" y1="148.51" x2="737.91" y2="145.08" stroke="#938f3a"/>
<line x1="757" y1="143.23" x2="745.94" y2="139.82" stroke="#938f46"/>
<line x1="770" y1="136.63" x2="758.98" y2="133.24" stroke="#8d8f51"/>
<line x1="773" y1="135.4" x2="761.99" y2="132.02" stroke="#738f51"/>
<line x1="776" y1="134.28" x2="765" y2="130.9" stroke="#338f2e"/>
<line x1="779" y1="133.19" x2="768.01" y2="129.82" stroke="#1a8f17"/>
<line x1="781.5" y1="132.33" x2="770.52" y2="128.96" stroke="#068806"/>
<line x1="786" y1="131.16" x2="775.04" y2="127.8" stroke="#338f2e"/>
<line x1="790" y1="130.52" x2="779.05" y2="127.17" stroke="#4d8f68"/>
<line x1="795" y1="130.11" x2="784.07" y2="126.77" stroke="#5a8f74"/>
<line x1="802" y1="129.72" x2="791.09" y2="126.39" stroke="#5a8f7a"/>
<line x1="808" y1="129.07" x2="797.11" y2="125.75" stroke="#4d8f85"/>
<line x1="813" y1="128.89" x2="802.13" y2="125.58" stroke="#408f85"/>
<line x1="817" y1="128.95" x2="806.14" y2="125.65" stroke="#338f85"/>
<line x1="823" y1="129.35" x2="812.16" y2="126.06" stroke="#4d8f7a"/>
<line x1="829" y1="128.9" x2="818.18" y2="125.62" stroke="#338f46"/>
<line x1="832" y1="128.47" x2="821.19" y2="125.2" stroke="#068806"/>
<line x1="836" y1="127.7" x2="825.2" y2="124.44" stroke="#338f2e"/>
<line x1="840" y1="126.67" x2="829.22" y2="123.41" stroke="#6f8f47"/>
<line x1="859.5" y1="116.95" x2="848.78" y2="113.73" stroke="#4d8f46"/>
<line x1="864" y1="114.71" x2="853.3" y2="111.5" stroke="#1a8f17"/>
<line x1="866" y1="113.91" x2="855.3" y2="110.7" stroke="#068806"/>
<line x1="872" y1="111.91" x2="861.33" y2="108.71" stroke="#1a8f2e"/>
<line x1="875" y1="111.14" x2="864.34" y2="107.94" stroke="#338f4a"/>
<line x1="889" y1="108.49" x2="878.38" y2="105.32" stroke="#068806"/>
<line x1="894" y1="107.09" x2="883.4" y2="103.93" stroke="#338f2e"/>
<line x1="896" y1="106.41" x2="885.41" y2="103.25" stroke="#738f51"/>
<line x1="897" y1="106.03" x2="886.41" y2="102.87" stroke="#938f46"/>
<line x1="909" y1="100.47" x2="898.45" y2="97.33" stroke="#8d8f51"/>
<line x1="913" y1="98.48" x2="902.46" y2="95.35" stroke="#938f51"/>
<line x1="917" y1="96.57" x2="906.48" y2="93.45" stroke="#8d8f51"/>
<line x1="921" y1="94.77" x2="910.49" y2="91.66" stroke="#5a8f51"/>
<line x1="923" y1="93.8" x2="912.5" y2="90.69" stroke="#338f2e"/>
<line x1="926" y1="92.33" x2="915.51" y2="89.22" stroke="#1a8f17"/>
<line x1="928" y1="91.4" x2="917.51" y2="88.3" stroke="#068f06"/>
<line x1="934" y1="88.93" x2="923.53" y2="85.84" stroke="#0d8f0c"/>
<line x1="943" y1="86.4" x2="932.56" y2="83.32" stroke="#1a8f2e"/>
<line x1="947" y1="85.72" x2="936.58" y2="82.65" stroke="#338f46"/>
<line x1="951" y1="85.25" x2="940.59" y2="82.19" stroke="#4d8f5d"/>
<line x1="954" y1="84.94" x2="943.6" y2="81.89" stroke="#668f7a"/>
<line x1="956" y1="84.76" x2="945.61" y2="81.71" stroke="#5a8f85"/>
<line x1="960" y1="84.55" x2="949.62" y2="81.5" stroke="#4d8f85"/>
<line x1="964" y1="84.58" x2="953.63" y2="81.54" stroke="#408f85"/>
<line x1="968" y1="85.02" x2="957.65" y2="81.99" stroke="#338f85"/>
<line x1="972" y1="86.12" x2="961.66" y2="83.1" stroke="#1a8f85"/>
<line x1="975" y1="87.22" x2="964.67" y2="84.2" stroke="#00708b"/>
<line x1="978" y1="88.45" x2="967.68" y2="85.44" stroke="#00638b"/>
<line x1="982" y1="90.32" x2="971.69" y2="87.32" stroke="#00828b"/>
</g>
<g stroke-width="0.55" fill="none" stroke-linejoin="round">
<polyline points="29.55,360.11 32.48,359.34 35.42,358.55 38.35,357.75 41.28,356.96 44.21,356.16 47.15,355.35 50.08,354.55 53.01,353.75 55.95,352.95 58.88,352.15 61.81,351.34 64.74,350.5 67.68,349.65" stroke="#068606"/>
<polyline points="67.68,349.65 70.49,348.81 73.3,347.95 76.11,347.08 78.91,346.19 81.72,345.3 84.53,344.4 87.34,343.52 90.15,342.64" stroke="#028402"/>
<polyline points="90.15,342.64 93.08,341.74 96.01,340.85 98.93,339.96 101.86,339.06 104.78,338.17 107.71,337.26" stroke="#0c890c"/>
<polyline points="107.71,337.26 110.62,336.34 113.53,335.39 116.44,334.44" stroke="#1e8a1e"/>
<polyline points="116.44,334.44 118.95,333.6 121.46,332.75 123.96,331.88" stroke="#2e8a2e"/>
<polyline points="123.96,331.88 126.7,330.89 129.43,329.88 132.17,328.87 134.9,327.88" stroke="#428a42"/>
<polyline points="134.9,327.88 137.38,327.05 139.85,326.23 142.33,325.3" stroke="#6c8a54"/>
<polyline points="142.33,325.3 145.11,324.13 147.89,322.92 150.68,321.69 153.46,320.44 156.25,319.19 159.03,317.94 161.82,316.69 164.6,315.46" stroke="#848a53"/>
<polyline points="164.6,315.46 167.58,314.16 170.55,312.86 173.53,311.57 176.51,310.28 179.48,308.99 182.46,307.7 185.44,306.41 188.41,305.13 191.39,303.84" stroke="#848a54"/>
<polyline points="191.39,303.84 193.75,302.84 196.11,301.88" stroke="#6c8a54"/>
<polyline points="196.11,301.88 198.45,300.97 200.79,300.1 203.13,299.28" stroke="#428a30"/>
<polyline points="203.13,299.28 206.06,298.33 208.98,297.46 211.91,296.67" stroke="#128612"/>
<polyline points="211.91,296.67 214.58,296.05 217.26,295.53 219.94,295.03" stroke="#128a12"/>
<polyline points="219.94,295.03 222.87,294.51 225.8,293.98" stroke="#248a30"/>
<polyline points="225.8,293.98 228.51,293.4 231.22,292.85" stroke="#308a48"/>
<polyline points="231.22,292.85 234.15,292.39 237.08,291.99 240,291.59" stroke="#488a66"/>
<polyline points="240,291.59 242.09,291.29 244.18,291 246.27,290.73" stroke="#548a7e"/>
<polyline points="246.27,290.73 249.28,290.38" stroke="#548a8a"/>
<polyline points="249.28,290.38 252.29,290.04" stroke="#488a8a"/>
<polyline points="252.29,290.04 255.3,289.77" stroke="#3c8a8a"/>
<polyline points="255.3,289.77 257.31,289.65 259.32,289.57" stroke="#308a8a"/>
<polyline points="259.32,289.57 261.32,289.52 263.33,289.53" stroke="#188a8a"/>
<polyline points="263.33,289.53 265.34,289.61 267.34,289.8" stroke="#008a8a"/>
<polyline points="267.34,289.8 270.35,290.31" stroke="#007e90"/>
<polyline points="270.35,290.31 272.36,290.82 274.37,291.49" stroke="#006c99"/>
<polyline points="274.37,291.49 276.37,292.36 278.38,293.47" stroke="#005699"/>
<polyline points="278.38,293.47 280.89,295.03 283.4,296.54" stroke="#004399"/>
<polyline points="283.4,296.54 285.91,297.91 288.41,299.21 290.92,300.51 293.43,301.82" stroke="#003b99"/>
<polyline points="293.43,301.82 296.19,303.26 298.95,304.72 301.71,306.29 304.47,307.85" stroke="#002893"/>
<polyline points="304.47,307.85 307.48,309.1" stroke="#003099"/>
<polyline points="307.48,309.1 309.48,309.78 311.49,310.53" stroke="#004899"/>
<polyline points="311.49,310.53 313.5,311.21 315.5,311.74" stroke="#006090"/>
<polyline points="315.5,311.74 318.01,312.28 320.52,312.71" stroke="#007d90"/>
<polyline points="320.52,312.71 323.03,312.98 325.54,313.06" stroke="#188a8a"/>
<polyline points="325.54,313.06 327.54,313 329.55,312.86" stroke="#3c8a8a"/>
<polyline points="329.55,312.86 331.31,312.71 333.06,312.52" stroke="#308a7e"/>
<polyline points="333.06,312.52 334.82,312.23 336.57,311.86" stroke="#488a6c"/>
<polyline points="336.57,311.86 338.58,311.44" stroke="#488a60"/>
<polyline points="338.58,311.44 341.09,310.88 343.6,310.2" stroke="#188a18"/>
<polyline points="343.6,310.2 346.43,309.37 349.26,308.48 352.09,307.5 354.92,306.37 357.75,305.1 360.58,303.76 363.41,302.46" stroke="#248a24"/>
<polyline points="363.41,302.46 366.23,301.23 369.05,300.05 371.87,298.9 374.68,297.79 377.5,296.71 380.32,295.59" stroke="#308a30"/>
<polyline points="380.32,295.59 382.68,294.6 385.04,293.6 387.39,292.57 389.75,291.53" stroke="#548a48"/>
<polyline points="389.75,291.53 392.26,290.41 394.77,289.28 397.28,288.15 399.79,287 402.29,285.85" stroke="#6c8a54"/>
<polyline points="402.29,285.85 405.18,284.51 408.06,283.15 410.95,281.78 413.83,280.43" stroke="#848a54"/>
<polyline points="413.83,280.43 416.14,279.37 418.45,278.32 420.76,277.2" stroke="#8a8a48"/>
<polyline points="420.76,277.2 423.26,275.87 425.77,274.47 428.28,273.03" stroke="#8a8a3c"/>
<polyline points="428.28,273.03 430.09,271.94 431.89,270.84" stroke="#8a8a30"/>
<polyline points="431.89,270.84 434.15,269.51 436.41,268.19" stroke="#8a8a2a"/>
<polyline points="436.41,268.19 438.29,267.06 440.17,265.89" stroke="#8a8a24"/>
<polyline points="440.17,265.89 442.35,264.46 444.53,262.97" stroke="#8d8d18"/>
<polyline points="444.53,262.97 446.64,261.52 448.75,260.05 450.86,258.58" stroke="#90900c"/>
<polyline points="450.86,258.58 453.83,256.51 456.8,254.44 459.77,252.36 462.75,250.28" stroke="#909006"/>
<polyline points="462.75,250.28 465.3,248.49 467.85,246.65 470.4,244.74 472.95,242.81 475.5,240.82 478.05,238.69" stroke="#909000"/>
<polyline points="478.05,238.69 480.81,236.06 483.56,233.26 486.32,230.57 489.08,228" stroke="#919106"/>
<polyline points="489.08,228 492.09,225.52 495.1,223.34 498.11,221.43 501.12,219.75" stroke="#8d8d18"/>
<polyline points="501.12,219.75 503.63,218.41 506.14,217.12" stroke="#8a8a30"/>
<polyline points="506.14,217.12 508.15,216.08 510.15,215.08" stroke="#8a8a48"/>
<polyline points="510.15,215.08 512.16,214.15 514.17,213.31" stroke="#6c8a54"/>
<polyline points="514.17,213.31 517.18,212.4 520.19,211.69" stroke="#068406"/>
<polyline points="520.19,211.69 521.19,211.48" stroke="#308a60"/>
<polyline points="521.19,211.48 523.2,211.14" stroke="#488a6c"/>
<polyline points="523.2,211.14 526.21,210.91" stroke="#608a8a"/>
<polyline points="526.21,210.91 529.22,210.96" stroke="#488a7e"/>
<polyline points="529.22,210.96 531.22,211.15" stroke="#3c8a8a"/>
<polyline points="531.22,211.15 534.23,211.67" stroke="#308a8a"/>
<polyline points="534.23,211.67 537.24,212.49" stroke="#008a90"/>
<polyline points="537.24,212.49 540.25,213.42" stroke="#007e90"/>
<polyline points="540.25,213.42 543.26,214.44" stroke="#006c99"/>
<polyline points="543.26,214.44 545.77,215.34 548.28,216.23 550.79,217.12 553.3,217.95" stroke="#005a99"/>
<polyline points="553.3,217.95 555.81,218.61 558.31,219.16" stroke="#006c90"/>
<polyline points="558.31,219.16 560.99,219.65 563.67,220.03 566.34,220.32" stroke="#128a90"/>
<polyline points="566.34,220.32 568.35,220.47 570.35,220.57" stroke="#308a8a"/>
<polyline points="570.35,220.57 573.36,220.61" stroke="#488a8a"/>
<polyline points="573.36,220.61 576.37,220.52" stroke="#548a8a"/>
<polyline points="576.37,220.52 578.38,220.37" stroke="#608a7e"/>
<polyline points="578.38,220.37 581.39,219.92" stroke="#488a60"/>
<polyline points="581.39,219.92 584.4,219.07" stroke="#188a18"/>
<polyline points="584.4,219.07 587.41,217.9" stroke="#068406"/>
<polyline points="587.41,217.9 590.42,216.58" stroke="#308a30"/>
<polyline points="590.42,216.58 593.43,215.06" stroke="#548a54"/>
<polyline points="593.43,215.06 596.44,213.39" stroke="#848a54"/>
<polyline points="596.44,213.39 599.45,211.77" stroke="#8a8a48"/>
<polyline points="599.45,211.77 601.46,210.64 603.46,209.4" stroke="#8a8a3c"/>
<polyline points="603.46,209.4 606.07,207.51 608.68,205.46 611.29,203.37 613.9,201.29 616.51,199.3" stroke="#8a8a30"/>
<polyline points="616.51,199.3 619.52,197.22 622.53,195.27" stroke="#8d8d18"/>
<polyline points="622.53,195.27 625.2,193.54 627.88,191.82 630.56,190.08" stroke="#909000"/>
<polyline points="630.56,190.08 633.57,188.04" stroke="#8a8a30"/>
<polyline points="633.57,188.04 636.58,186" stroke="#8a8a3c"/>
<polyline points="636.58,186 639.08,184.36 641.59,182.89" stroke="#8a8a48"/>
<polyline points="641.59,182.89 644.6,181.38 647.61,179.95 650.62,178.4" stroke="#848a54"/>
<polyline points="650.62,178.4 652.96,177.06 655.3,175.6 657.65,174.01" stroke="#8a8a30"/>
<polyline points="657.65,174.01 659.99,172.25 662.33,170.39 664.67,168.62" stroke="#8a8a3c"/>
<polyline points="664.67,168.62 667.18,166.84 669.69,165.17" stroke="#8a8a30"/>
<polyline points="669.69,165.17 672.7,163.56" stroke="#8a8a48"/>
<polyline points="672.7,163.56 674.7,162.87 676.71,162.42" stroke="#848a54"/>
<polyline points="676.71,162.42 678.72,162.08" stroke="#548a54"/>
<polyline points="678.72,162.08 680.72,161.7" stroke="#308a30"/>
<polyline points="680.72,161.7 683.23,161.12 685.74,160.53" stroke="#068406"/>
<polyline points="685.74,160.53 688.75,159.88" stroke="#188a18"/>
<polyline points="688.75,159.88 691.76,159.32" stroke="#488a6c"/>
<polyline points="691.76,159.32 694.77,158.84" stroke="#608a7e"/>
<polyline points="694.77,158.84 697.78,158.45 700.79,158.17" stroke="#4d8a86"/>
<polyline points="700.79,158.17 703.3,157.98 705.81,157.81" stroke="#548a7e"/>
<polyline points="705.81,157.81 708.82,157.65" stroke="#488a6c"/>
<polyline points="708.82,157.65 710.82,157.54 712.83,157.4" stroke="#308a48"/>
<polyline points="712.83,157.4 715.34,157.24 717.85,157.04" stroke="#068406"/>
<polyline points="717.85,157.04 719.85,156.68 721.86,156.03" stroke="#188a18"/>
<polyline points="721.86,156.03 723.87,155.1 725.87,153.98" stroke="#308a30"/>
<polyline points="725.87,153.98 728.88,152.09" stroke="#548a54"/>
<polyline points="728.88,152.09 730.89,150.59 732.9,148.94" stroke="#848a54"/>
<polyline points="732.9,148.94 735.4,146.94 737.91,145.08" stroke="#8a8a48"/>
<polyline points="737.91,145.08 740.59,143.26 743.26,141.5 745.94,139.82" stroke="#8a8a3c"/>
<polyline points="745.94,139.82 748.55,138.3 751.16,136.91 753.77,135.61 756.37,134.38 758.98,133.24" stroke="#8a8a48"/>
<polyline points="758.98,133.24 761.99,132.02" stroke="#848a54"/>
<polyline points="761.99,132.02 765,130.9" stroke="#6c8a54"/>
<polyline points="765,130.9 768.01,129.82" stroke="#308a30"/>
<polyline points="768.01,129.82 770.52,128.96" stroke="#188a18"/>
<polyline points="770.52,128.96 772.78,128.31 775.04,127.8" stroke="#068406"/>
<polyline points="775.04,127.8 777.04,127.45 779.05,127.17" stroke="#308a30"/>
<polyline points="779.05,127.17 781.56,126.91 784.07,126.77" stroke="#488a6c"/>
<polyline points="784.07,126.77 786.41,126.7 788.75,126.6 791.09,126.39" stroke="#548a78"/>
<polyline points="791.09,126.39 794.1,126.03 797.11,125.75" stroke="#548a7e"/>
<polyline points="797.11,125.75 799.62,125.63 802.13,125.58" stroke="#488a8a"/>
<polyline points="802.13,125.58 804.13,125.59 806.14,125.65" stroke="#3c8a8a"/>
<polyline points="806.14,125.65 809.15,125.88 812.16,126.06" stroke="#308a8a"/>
<polyline points="812.16,126.06 815.17,125.96 818.18,125.62" stroke="#488a7e"/>
<polyline points="818.18,125.62 821.19,125.2" stroke="#308a48"/>
<polyline points="821.19,125.2 823.2,124.85 825.2,124.44" stroke="#068406"/>
<polyline points="825.2,124.44 827.21,124 829.22,123.41" stroke="#308a30"/>
<polyline points="829.22,123.41 832.01,122.28 834.81,120.99 837.6,119.63 840.4,118.17 843.19,116.66 845.99,115.17 848.78,113.73" stroke="#688a49"/>
<polyline points="848.78,113.73 851.04,112.56 853.3,111.5" stroke="#488a48"/>
<polyline points="853.3,111.5 855.3,110.7" stroke="#188a18"/>
<polyline points="855.3,110.7 858.32,109.63 861.33,108.71" stroke="#068406"/>
<polyline points="861.33,108.71 864.34,107.94" stroke="#188a30"/>
<polyline points="864.34,107.94 867.14,107.35 869.95,106.81 872.76,106.36 875.57,105.91 878.38,105.32" stroke="#308a4d"/>
<polyline points="878.38,105.32 880.89,104.67 883.4,103.93" stroke="#068406"/>
<polyline points="883.4,103.93 885.41,103.25" stroke="#308a30"/>
<polyline points="885.41,103.25 886.41,102.87" stroke="#6c8a54"/>
<polyline points="886.41,102.87 889.42,101.63 892.43,100.26 895.44,98.84 898.45,97.33" stroke="#8a8a48"/>
<polyline points="898.45,97.33 900.46,96.34 902.46,95.35" stroke="#848a54"/>
<polyline points="902.46,95.35 904.47,94.38 906.48,93.45" stroke="#8a8a54"/>
<polyline points="906.48,93.45 908.48,92.56 910.49,91.66" stroke="#848a54"/>
<polyline points="910.49,91.66 912.5,90.69" stroke="#548a54"/>
<polyline points="912.5,90.69 915.51,89.22" stroke="#308a30"/>
<polyline points="915.51,89.22 917.51,88.3" stroke="#188a18"/>
<polyline points="917.51,88.3 920.52,87.01 923.53,85.84" stroke="#068a06"/>
<polyline points="923.53,85.84 926.54,84.83 929.55,84 932.56,83.32" stroke="#0c8a0c"/>
<polyline points="932.56,83.32 934.57,82.95 936.58,82.65" stroke="#188a30"/>
<polyline points="936.58,82.65 938.58,82.41 940.59,82.19" stroke="#308a48"/>
<polyline points="940.59,82.19 943.6,81.89" stroke="#488a60"/>
<polyline points="943.6,81.89 945.61,81.71" stroke="#608a7e"/>
<polyline points="945.61,81.71 947.61,81.57 949.62,81.5" stroke="#548a8a"/>
<polyline points="949.62,81.5 951.63,81.49 953.63,81.54" stroke="#488a8a"/>
<polyline points="953.63,81.54 955.64,81.69 957.65,81.99" stroke="#3c8a8a"/>
<polyline points="957.65,81.99 959.65,82.47 961.66,83.1" stroke="#308a8a"/>
<polyline points="961.66,83.1 964.67,84.2" stroke="#188a8a"/>
<polyline points="964.67,84.2 967.68,85.44" stroke="#006c90"/>
<polyline points="967.68,85.44 969.69,86.36 971.69,87.32" stroke="#006090"/>
<polyline points="971.69,87.32 974.2,88.56" stroke="#007e90"/>
</g>
<g stroke-width="0.6" stroke-linejoin="round">
<polygon points="43,364.81 45.92,364.04 48.85,363.24 51.77,362.44 54.69,361.64 57.62,360.83 60.54,360.02 63.46,359.21 66.38,358.41 69.31,357.61 72.23,356.8 75.15,355.98 78.08,355.14 81,354.28 83.41,402.2 80.5,403.09 77.59,403.98 74.69,404.86 71.78,405.75 68.88,406.64 65.97,407.53 63.07,408.41 60.16,409.3 57.25,410.19 54.35,411.08 51.45,411.96 48.54,412.85 45.64,413.74" fill="#0ae00a" stroke="#0ae00a"/>
<polygon points="81,354.28 83.8,353.44 86.6,352.57 89.4,351.69 92.2,350.8 95,349.9 97.8,349 100.6,348.11 103.4,347.23 105.71,395.38 102.93,396.24 100.14,397.09 97.35,397.94 94.56,398.79 91.77,399.64 88.98,400.5 86.19,401.35 83.41,402.2" fill="#04dc04" stroke="#04dc04"/>
<polygon points="103.4,347.23 106.32,346.32 109.23,345.43 112.15,344.53 115.07,343.63 117.98,342.73 120.9,341.82 123.14,390.06 120.23,390.95 117.33,391.83 114.43,392.72 111.52,393.61 108.62,394.5 105.71,395.38" fill="#14e414" stroke="#14e414"/>
<polygon points="120.9,341.82 123.8,340.89 126.7,339.94 129.6,338.98 131.81,387.41 128.92,388.29 126.03,389.18 123.14,390.06" fill="#32e632" stroke="#32e632"/>
<polygon points="129.6,338.98 132.1,338.14 134.6,337.29 137.1,336.41 139.28,385.13 136.79,385.89 134.3,386.65 131.81,387.41" fill="#4ce64c" stroke="#4ce64c"/>
<polygon points="137.1,336.41 139.82,335.41 142.55,334.4 145.28,333.38 148,332.39 150.16,381.8 147.44,382.63 144.72,383.46 142,384.3 139.28,385.13" fill="#6ee66e" stroke="#6ee66e"/>
<polygon points="148,332.39 150.47,331.55 152.93,330.73 155.4,329.8 157.54,379.55 155.08,380.3 152.62,381.05 150.16,381.8" fill="#b4e68c" stroke="#b4e68c"/>
<polygon points="155.4,329.8 158.18,328.62 160.95,327.41 163.72,326.17 166.5,324.92 169.28,323.66 172.05,322.4 174.82,321.16 177.6,319.92 179.76,372.76 176.99,373.61 174.21,374.46 171.43,375.31 168.65,376.15 165.87,377 163.1,377.85 160.32,378.7 157.54,379.55" fill="#dce68a" stroke="#dce68a"/>
<polygon points="177.6,319.92 180.57,318.61 183.53,317.31 186.5,316.01 189.47,314.71 192.43,313.42 195.4,312.12 198.37,310.83 201.33,309.54 204.3,308.25 206.46,364.6 203.5,365.51 200.53,366.41 197.56,367.32 194.6,368.23 191.63,369.13 188.67,370.04 185.7,370.95 182.73,371.85 179.76,372.76" fill="#dce68c" stroke="#dce68c"/>
<polygon points="204.3,308.25 206.65,307.24 209,306.28 211.16,363.17 208.81,363.88 206.46,364.6" fill="#b4e68c" stroke="#b4e68c"/>
<polygon points="209,306.28 211.33,305.37 213.67,304.49 216,303.67 218.14,361.04 215.81,361.75 213.48,362.46 211.16,363.17" fill="#6ee650" stroke="#6ee650"/>
<polygon points="216,303.67 218.92,302.72 221.83,301.83 224.75,301.04 226.84,358.38 223.94,359.26 221.04,360.15 218.14,361.04" fill="#1ee01e" stroke="#1ee01e"/>
<polygon points="224.75,301.04 227.42,300.42 230.08,299.89 232.75,299.38 234.77,355.95 232.12,356.76 229.48,357.57 226.84,358.38" fill="#1ee61e" stroke="#1ee61e"/>
<polygon points="232.75,299.38 235.68,298.86 238.6,298.33 240.56,354.18 237.66,355.07 234.77,355.95" fill="#3ce650" stroke="#3ce650"/>
<polygon points="238.6,298.33 241.3,297.75 244,297.19 245.91,352.55 243.24,353.37 240.56,354.18" fill="#50e678" stroke="#50e678"/>
<polygon points="244,297.19 246.92,296.72 249.83,296.31 252.75,295.91 254.57,349.9 251.69,350.78 248.8,351.67 245.91,352.55" fill="#78e6aa" stroke="#78e6aa"/>
<polygon points="252.75,295.91 254.83,295.61 256.92,295.32 259,295.04 260.75,348.01 258.69,348.64 256.63,349.27 254.57,349.9" fill="#8ce6d2" stroke="#8ce6d2"/>
<polygon points="259,295.04 262,294.68 263.72,347.11 260.75,348.01" fill="#8ce6e6" stroke="#8ce6e6"/>
<polygon points="262,294.68 265,294.34 266.69,346.2 263.72,347.11" fill="#78e6e6" stroke="#78e6e6"/>
<polygon points="265,294.34 268,294.06 269.65,345.3 266.69,346.2" fill="#64e6e6" stroke="#64e6e6"/>
<polygon points="268,294.06 270,293.94 272,293.85 273.6,344.09 271.63,344.69 269.65,345.3" fill="#50e6e6" stroke="#50e6e6"/>
<polygon points="272,293.85 274,293.8 276,293.81 277.55,342.88 275.57,343.49 273.6,344.09" fill="#28e6e6" stroke="#28e6e6"/>
<polygon points="276,293.81 278,293.89 280,294.08 281.48,341.68 279.52,342.28 277.55,342.88" fill="#00e6e6" stroke="#00e6e6"/>
<polygon points="280,294.08 283,294.58 284.42,340.78 281.48,341.68" fill="#00d2f0" stroke="#00d2f0"/>
<polygon points="283,294.58 285,295.08 287,295.75 288.34,339.59 286.38,340.18 284.42,340.78" fill="#00b4ff" stroke="#00b4ff"/>
<polygon points="287,295.75 289,296.62 291,297.72 292.22,338.4 290.28,338.99 288.34,339.59" fill="#0090ff" stroke="#0090ff"/>
<polygon points="291,297.72 293.5,299.28 296,300.78 297.07,336.92 294.64,337.66 292.22,338.4" fill="#0070ff" stroke="#0070ff"/>
<polygon points="296,300.78 298.5,302.14 301,303.45 303.5,304.74 306,306.04 306.8,333.95 304.36,334.69 301.93,335.43 299.5,336.18 297.07,336.92" fill="#0062ff" stroke="#0062ff"/>
<polygon points="306,306.04 308.75,307.48 311.5,308.94 314.25,310.5 317,312.06 317.51,330.67 314.83,331.49 312.16,332.31 309.48,333.13 306.8,333.95" fill="#0042f5" stroke="#0042f5"/>
<polygon points="317,312.06 320,313.3 320.45,329.78 317.51,330.67" fill="#0050ff" stroke="#0050ff"/>
<polygon points="320,313.3 322,313.97 324,314.72 324.37,328.58 322.41,329.18 320.45,329.78" fill="#0078ff" stroke="#0078ff"/>
<polygon points="324,314.72 326,315.4 328,315.93 328.3,327.38 326.34,327.98 324.37,328.58" fill="#00a0f0" stroke="#00a0f0"/>
<polygon points="328,315.93 330.5,316.46 333,316.89 333.23,325.87 330.77,326.62 328.3,327.38" fill="#00d0f0" stroke="#00d0f0"/>
<polygon points="333,316.89 335.5,317.15 338,317.23 338.18,324.36 335.71,325.11 333.23,325.87" fill="#28e6e6" stroke="#28e6e6"/>
<polygon points="338,317.23 340,317.16 342,317.02 342.15,323.14 340.17,323.75 338.18,324.36" fill="#64e6e6" stroke="#64e6e6"/>
<polygon points="342,317.02 343.75,316.86 345.5,316.68 345.63,322.08 343.89,322.61 342.15,323.14" fill="#50e6d2" stroke="#50e6d2"/>
<polygon points="345.5,316.68 347.25,316.38 349,316.01 349.12,321.01 347.38,321.55 345.63,322.08" fill="#78e6b4" stroke="#78e6b4"/>
<polygon points="349,316.01 351,315.59 351.12,320.41 349.12,321.01" fill="#78e6a0" stroke="#78e6a0"/>
<polygon points="351,315.59 353.5,315.02 356,314.34 356.11,318.88 353.61,319.64 351.12,320.41" fill="#28e628" stroke="#28e628"/>
<polygon points="356,314.34 358.82,313.5 361.64,312.61 364.46,311.62 367.29,310.48 370.11,309.21 372.93,307.87 375.75,306.56 375.89,312.84 373.06,313.7 370.23,314.57 367.4,315.43 364.57,316.29 361.75,317.16 358.93,318.02 356.11,318.88" fill="#3ce63c" stroke="#3ce63c"/>
<polygon points="375.75,306.56 378.56,305.33 381.37,304.14 384.18,302.98 386.98,301.87 389.79,300.78 392.6,299.66 392.76,307.68 389.95,308.54 387.14,309.4 384.33,310.26 381.52,311.12 378.7,311.98 375.89,312.84" fill="#50e650" stroke="#50e650"/>
<polygon points="392.6,299.66 394.95,298.67 397.3,297.66 399.65,296.62 402,295.58 402.18,304.8 399.83,305.52 397.47,306.24 395.12,306.96 392.76,307.68" fill="#8ce678" stroke="#8ce678"/>
<polygon points="402,295.58 404.5,294.46 407,293.33 409.5,292.19 412,291.04 414.5,289.88 414.7,300.98 412.2,301.74 409.69,302.51 407.19,303.27 404.68,304.04 402.18,304.8" fill="#b4e68c" stroke="#b4e68c"/>
<polygon points="414.5,289.88 417.38,288.53 420.25,287.16 423.12,285.79 426,284.43 426.22,297.46 423.34,298.34 420.46,299.22 417.58,300.1 414.7,300.98" fill="#dce68c" stroke="#dce68c"/>
<polygon points="426,284.43 428.3,283.38 430.6,282.32 432.9,281.2 433.13,295.35 430.83,296.05 428.53,296.75 426.22,297.46" fill="#e6e678" stroke="#e6e678"/>
<polygon points="432.9,281.2 435.4,279.87 437.9,278.46 440.4,277.01 440.65,293.05 438.15,293.82 435.64,294.58 433.13,295.35" fill="#e6e664" stroke="#e6e664"/>
<polygon points="440.4,277.01 442.2,275.92 444,274.82 444.27,291.95 442.46,292.5 440.65,293.05" fill="#e6e650" stroke="#e6e650"/>
<polygon points="444,274.82 446.25,273.49 448.5,272.16 448.78,290.57 446.52,291.26 444.27,291.95" fill="#e6e646" stroke="#e6e646"/>
<polygon points="448.5,272.16 450.38,271.02 452.25,269.85 452.54,289.42 450.66,289.99 448.78,290.57" fill="#e6e63c" stroke="#e6e63c"/>
<polygon points="452.25,269.85 454.43,268.41 456.6,266.93 456.9,288.08 454.72,288.75 452.54,289.42" fill="#ebeb28" stroke="#ebeb28"/>
<polygon points="456.6,266.93 458.7,265.47 460.8,264 462.9,262.52 463.22,286.15 461.12,286.8 459.01,287.44 456.9,288.08" fill="#f0f014" stroke="#f0f014"/>
<polygon points="462.9,262.52 465.86,260.44 468.82,258.37 471.79,256.29 474.75,254.2 475.11,282.52 472.14,283.43 469.17,284.34 466.2,285.25 463.22,286.15" fill="#f0f00a" stroke="#f0f00a"/>
<polygon points="474.75,254.2 477.29,252.41 479.83,250.56 482.38,248.65 484.92,246.71 487.46,244.71 490,242.58 490.39,277.85 487.85,278.63 485.3,279.41 482.75,280.19 480.2,280.97 477.66,281.74 475.11,282.52" fill="#f0f000" stroke="#f0f000"/>
<polygon points="490,242.58 492.75,239.95 495.5,237.15 498.25,234.45 501,231.87 501.43,274.48 498.68,275.32 495.92,276.17 493.16,277.01 490.39,277.85" fill="#f2f20a" stroke="#f2f20a"/>
<polygon points="501,231.87 504,229.38 507,227.2 510,225.28 513,223.6 513.43,270.82 510.43,271.73 507.44,272.65 504.44,273.56 501.43,274.48" fill="#ebeb28" stroke="#ebeb28"/>
<polygon points="513,223.6 515.5,222.25 518,220.96 518.41,269.29 515.92,270.05 513.43,270.82" fill="#e6e650" stroke="#e6e650"/>
<polygon points="518,220.96 520,219.92 522,218.91 522.4,268.07 520.41,268.68 518.41,269.29" fill="#e6e678" stroke="#e6e678"/>
<polygon points="522,218.91 524,217.98 526,217.14 526.39,266.86 524.4,267.46 522.4,268.07" fill="#b4e68c" stroke="#b4e68c"/>
<polygon points="526,217.14 529,216.22 532,215.51 532.36,265.03 529.37,265.94 526.39,266.86" fill="#0adc0a" stroke="#0adc0a"/>
<polygon points="532,215.51 533,215.29 533.35,264.73 532.36,265.03" fill="#50e6a0" stroke="#50e6a0"/>
<polygon points="533,215.29 535,214.95 535.34,264.12 533.35,264.73" fill="#78e6b4" stroke="#78e6b4"/>
<polygon points="535,214.95 538,214.72 538.32,263.21 535.34,264.12" fill="#a0e6e6" stroke="#a0e6e6"/>
<polygon points="538,214.72 541,214.76 541.3,262.3 538.32,263.21" fill="#78e6d2" stroke="#78e6d2"/>
<polygon points="541,214.76 543,214.94 543.29,261.69 541.3,262.3" fill="#64e6e6" stroke="#64e6e6"/>
<polygon points="543,214.94 546,215.46 546.27,260.78 543.29,261.69" fill="#50e6e6" stroke="#50e6e6"/>
<polygon points="546,215.46 549,216.27 549.25,259.87 546.27,260.78" fill="#00e6f0" stroke="#00e6f0"/>
<polygon points="549,216.27 552,217.2 552.22,258.96 549.25,259.87" fill="#00d2f0" stroke="#00d2f0"/>
<polygon points="552,217.2 555,218.21 555.2,258.05 552.22,258.96" fill="#00b4ff" stroke="#00b4ff"/>
<polygon points="555,218.21 557.5,219.11 560,220 562.5,220.88 565,221.7 565.14,255.02 562.65,255.78 560.17,256.53 557.68,257.29 555.2,258.05" fill="#0096ff" stroke="#0096ff"/>
<polygon points="565,221.7 567.5,222.36 570,222.91 570.11,253.5 567.62,254.26 565.14,255.02" fill="#00b4f0" stroke="#00b4f0"/>
<polygon points="570,222.91 572.67,223.39 575.33,223.77 578,224.06 578.08,251.06 575.42,251.87 572.77,252.69 570.11,253.5" fill="#1ee6f0" stroke="#1ee6f0"/>
<polygon points="578,224.06 580,224.2 582,224.29 582.06,249.84 580.07,250.45 578.08,251.06" fill="#50e6e6" stroke="#50e6e6"/>
<polygon points="582,224.29 585,224.33 585.06,248.93 582.06,249.84" fill="#78e6e6" stroke="#78e6e6"/>
<polygon points="585,224.33 588,224.23 588.05,248.02 585.06,248.93" fill="#8ce6e6" stroke="#8ce6e6"/>
<polygon points="588,224.23 590,224.08 590.04,247.41 588.05,248.02" fill="#a0e6d2" stroke="#a0e6d2"/>
<polygon points="590,224.08 593,223.63 593.03,246.49 590.04,247.41" fill="#78e6a0" stroke="#78e6a0"/>
<polygon points="593,223.63 596,222.77 596.03,245.58 593.03,246.49" fill="#28e628" stroke="#28e628"/>
<polygon points="596,222.77 599,221.59 599.02,244.66 596.03,245.58" fill="#0adc0a" stroke="#0adc0a"/>
<polygon points="599,221.59 602,220.27 602.02,243.75 599.02,244.66" fill="#50e650" stroke="#50e650"/>
<polygon points="602,220.27 605,218.75 605.01,242.83 602.02,243.75" fill="#8ce68c" stroke="#8ce68c"/>
<polygon points="605,218.75 608,217.07 608,241.92 605.01,242.83" fill="#dce68c" stroke="#dce68c"/>
<polygon points="608,217.07 611,215.45 611,241.01 608,241.92" fill="#e6e678" stroke="#e6e678"/>
<polygon points="611,215.45 613,214.31 615,213.07 614.98,239.79 612.99,240.4 611,241.01" fill="#e6e664" stroke="#e6e664"/>
<polygon points="615,213.07 617.6,211.18 620.2,209.12 622.8,207.02 625.4,204.94 628,202.94 627.94,235.83 625.35,236.62 622.76,237.41 620.17,238.2 617.58,238.99 614.98,239.79" fill="#e6e650" stroke="#e6e650"/>
<polygon points="628,202.94 631,200.86 634,198.9 633.92,234 630.93,234.91 627.94,235.83" fill="#ebeb28" stroke="#ebeb28"/>
<polygon points="634,198.9 636.67,197.17 639.33,195.44 642,193.69 641.88,231.57 639.23,232.38 636.57,233.19 633.92,234" fill="#f0f000" stroke="#f0f000"/>
<polygon points="642,193.69 645,191.65 644.87,230.66 641.88,231.57" fill="#e6e650" stroke="#e6e650"/>
<polygon points="645,191.65 648,189.6 647.85,229.74 644.87,230.66" fill="#e6e664" stroke="#e6e664"/>
<polygon points="648,189.6 650.5,187.96 653,186.48 652.83,228.22 650.34,228.98 647.85,229.74" fill="#e6e678" stroke="#e6e678"/>
<polygon points="653,186.48 656,184.97 659,183.53 662,181.99 661.78,225.49 658.8,226.4 655.81,227.31 652.83,228.22" fill="#dce68c" stroke="#dce68c"/>
<polygon points="662,181.99 664.33,180.64 666.67,179.17 669,177.58 668.74,223.36 666.42,224.07 664.1,224.78 661.78,225.49" fill="#e6e650" stroke="#e6e650"/>
<polygon points="669,177.58 671.33,175.82 673.67,173.95 676,172.18 675.69,221.24 673.38,221.95 671.06,222.65 668.74,223.36" fill="#e6e664" stroke="#e6e664"/>
<polygon points="676,172.18 678.5,170.39 681,168.71 680.66,219.72 678.17,220.48 675.69,221.24" fill="#e6e650" stroke="#e6e650"/>
<polygon points="681,168.71 684,167.1 683.64,218.81 680.66,219.72" fill="#e6e678" stroke="#e6e678"/>
<polygon points="684,167.1 686,166.41 688,165.96 687.62,217.59 685.63,218.2 683.64,218.81" fill="#dce68c" stroke="#dce68c"/>
<polygon points="688,165.96 690,165.61 689.61,216.99 687.62,217.59" fill="#8ce68c" stroke="#8ce68c"/>
<polygon points="690,165.61 692,165.23 691.6,216.38 689.61,216.99" fill="#50e650" stroke="#50e650"/>
<polygon points="692,165.23 694.5,164.65 697,164.05 696.58,214.86 694.09,215.62 691.6,216.38" fill="#0adc0a" stroke="#0adc0a"/>
<polygon points="697,164.05 700,163.4 699.57,213.94 696.58,214.86" fill="#28e628" stroke="#28e628"/>
<polygon points="700,163.4 703,162.83 702.56,213.03 699.57,213.94" fill="#78e6b4" stroke="#78e6b4"/>
<polygon points="703,162.83 706,162.34 705.55,212.12 702.56,213.03" fill="#a0e6d2" stroke="#a0e6d2"/>
<polygon points="706,162.34 709,161.95 712,161.66 711.53,210.29 708.54,211.2 705.55,212.12" fill="#80e6e0" stroke="#80e6e0"/>
<polygon points="712,161.66 714.5,161.47 717,161.3 716.52,208.76 714.03,209.53 711.53,210.29" fill="#8ce6d2" stroke="#8ce6d2"/>
<polygon points="717,161.3 720,161.13 719.52,207.85 716.52,208.76" fill="#78e6b4" stroke="#78e6b4"/>
<polygon points="720,161.13 722,161.02 724,160.87 723.51,206.63 721.51,207.24 719.52,207.85" fill="#50e678" stroke="#50e678"/>
<polygon points="724,160.87 726.5,160.71 729,160.5 728.5,205.1 726,205.87 723.51,206.63" fill="#0adc0a" stroke="#0adc0a"/>
<polygon points="729,160.5 731,160.14 733,159.48 732.49,203.89 730.49,204.49 728.5,205.1" fill="#28e628" stroke="#28e628"/>
<polygon points="733,159.48 735,158.55 737,157.43 736.46,202.67 734.47,203.28 732.49,203.89" fill="#50e650" stroke="#50e650"/>
<polygon points="737,157.43 740,155.53 739.43,201.76 736.46,202.67" fill="#8ce68c" stroke="#8ce68c"/>
<polygon points="740,155.53 742,154.02 744,152.37 743.39,200.55 741.41,201.16 739.43,201.76" fill="#dce68c" stroke="#dce68c"/>
<polygon points="744,152.37 746.5,150.37 749,148.51 748.34,199.04 745.87,199.8 743.39,200.55" fill="#e6e678" stroke="#e6e678"/>
<polygon points="749,148.51 751.67,146.68 754.33,144.92 757,143.23 756.26,196.62 753.62,197.43 750.98,198.24 748.34,199.04" fill="#e6e664" stroke="#e6e664"/>
<polygon points="757,143.23 759.6,141.71 762.2,140.31 764.8,139.01 767.4,137.78 770,136.63 769.16,192.68 766.58,193.47 764,194.26 761.42,195.05 758.84,195.83 756.26,196.62" fill="#e6e678" stroke="#e6e678"/>
<polygon points="770,136.63 773,135.4 772.14,191.77 769.16,192.68" fill="#dce68c" stroke="#dce68c"/>
<polygon points="773,135.4 776,134.28 775.12,190.86 772.14,191.77" fill="#b4e68c" stroke="#b4e68c"/>
<polygon points="776,134.28 779,133.19 778.1,189.95 775.12,190.86" fill="#50e650" stroke="#50e650"/>
<polygon points="779,133.19 781.5,132.33 780.59,189.19 778.1,189.95" fill="#28e628" stroke="#28e628"/>
<polygon points="781.5,132.33 783.75,131.67 786,131.16 785.06,187.82 782.82,188.51 780.59,189.19" fill="#0adc0a" stroke="#0adc0a"/>
<polygon points="786,131.16 788,130.8 790,130.52 789.05,186.6 787.06,187.21 785.06,187.82" fill="#50e650" stroke="#50e650"/>
<polygon points="790,130.52 792.5,130.26 795,130.11 794.05,185.08 791.55,185.84 789.05,186.6" fill="#78e6b4" stroke="#78e6b4"/>
<polygon points="795,130.11 797.33,130.04 799.67,129.93 802,129.72 801.04,182.94 798.71,183.65 796.38,184.37 794.05,185.08" fill="#8ce6c8" stroke="#8ce6c8"/>
<polygon points="802,129.72 805,129.36 808,129.07 807.04,181.11 804.04,182.03 801.04,182.94" fill="#8ce6d2" stroke="#8ce6d2"/>
<polygon points="808,129.07 810.5,128.94 813,128.89 812.04,179.58 809.54,180.35 807.04,181.11" fill="#78e6e6" stroke="#78e6e6"/>
<polygon points="813,128.89 815,128.89 817,128.95 816.04,178.36 814.04,178.97 812.04,179.58" fill="#64e6e6" stroke="#64e6e6"/>
<polygon points="817,128.95 820,129.18 823,129.35 822.06,176.52 819.05,177.44 816.04,178.36" fill="#50e6e6" stroke="#50e6e6"/>
<polygon points="823,129.35 826,129.24 829,128.9 828.06,174.69 825.06,175.6 822.06,176.52" fill="#78e6d2" stroke="#78e6d2"/>
<polygon points="829,128.9 832,128.47 831.06,173.77 828.06,174.69" fill="#50e678" stroke="#50e678"/>
<polygon points="832,128.47 834,128.12 836,127.7 835.05,172.55 833.06,173.16 831.06,173.77" fill="#0adc0a" stroke="#0adc0a"/>
<polygon points="836,127.7 838,127.26 840,126.67 839.04,171.33 837.05,171.94 835.05,172.55" fill="#50e650" stroke="#50e650"/>
<polygon points="840,126.67 842.79,125.53 845.57,124.24 848.36,122.87 851.14,121.41 853.93,119.89 856.71,118.4 859.5,116.95 858.37,165.43 855.61,166.27 852.85,167.11 850.09,167.95 847.33,168.8 844.57,169.64 841.81,170.49 839.04,171.33" fill="#aee67a" stroke="#aee67a"/>
<polygon points="859.5,116.95 861.75,115.78 864,114.71 862.83,164.06 860.6,164.74 858.37,165.43" fill="#78e678" stroke="#78e678"/>
<polygon points="864,114.71 866,113.91 864.82,163.46 862.83,164.06" fill="#28e628" stroke="#28e628"/>
<polygon points="866,113.91 869,112.84 872,111.91 870.78,161.63 867.8,162.54 864.82,163.46" fill="#0adc0a" stroke="#0adc0a"/>
<polygon points="872,111.91 875,111.14 873.77,160.72 870.78,161.63" fill="#28e650" stroke="#28e650"/>
<polygon points="875,111.14 877.8,110.54 880.6,109.99 883.4,109.54 886.2,109.08 889,108.49 887.75,156.45 884.96,157.3 882.16,158.16 879.36,159.01 876.57,159.87 873.77,160.72" fill="#50e680" stroke="#50e680"/>
<polygon points="889,108.49 891.5,107.84 894,107.09 892.73,154.93 890.24,155.69 887.75,156.45" fill="#0adc0a" stroke="#0adc0a"/>
<polygon points="894,107.09 896,106.41 894.72,154.32 892.73,154.93" fill="#50e650" stroke="#50e650"/>
<polygon points="896,106.41 897,106.03 895.72,154.02 894.72,154.32" fill="#b4e68c" stroke="#b4e68c"/>
<polygon points="897,106.03 900,104.78 903,103.41 906,101.98 909,100.47 907.61,150.38 904.64,151.29 901.67,152.2 898.69,153.11 895.72,154.02" fill="#e6e678" stroke="#e6e678"/>
<polygon points="909,100.47 911,99.47 913,98.48 911.57,149.17 909.59,149.78 907.61,150.38" fill="#dce68c" stroke="#dce68c"/>
<polygon points="913,98.48 915,97.5 917,96.57 915.53,147.96 913.55,148.57 911.57,149.17" fill="#e6e68c" stroke="#e6e68c"/>
<polygon points="917,96.57 919,95.68 921,94.77 919.49,146.75 917.51,147.36 915.53,147.96" fill="#dce68c" stroke="#dce68c"/>
<polygon points="921,94.77 923,93.8 921.47,146.15 919.49,146.75" fill="#8ce68c" stroke="#8ce68c"/>
<polygon points="923,93.8 926,92.33 924.44,145.24 921.47,146.15" fill="#50e650" stroke="#50e650"/>
<polygon points="926,92.33 928,91.4 926.42,144.63 924.44,145.24" fill="#28e628" stroke="#28e628"/>
<polygon points="928,91.4 931,90.11 934,88.93 932.37,142.81 929.4,143.72 926.42,144.63" fill="#0ae60a" stroke="#0ae60a"/>
<polygon points="934,88.93 937,87.92 940,87.08 943,86.4 941.34,140.08 938.34,140.99 935.36,141.9 932.37,142.81" fill="#14e614" stroke="#14e614"/>
<polygon points="943,86.4 945,86.02 947,85.72 945.33,138.86 943.33,139.47 941.34,140.08" fill="#28e650" stroke="#28e650"/>
<polygon points="947,85.72 949,85.47 951,85.25 949.34,137.63 947.33,138.24 945.33,138.86" fill="#50e678" stroke="#50e678"/>
<polygon points="951,85.25 954,84.94 952.34,136.71 949.34,137.63" fill="#78e6a0" stroke="#78e6a0"/>
<polygon points="954,84.94 956,84.76 954.35,136.1 952.34,136.71" fill="#a0e6d2" stroke="#a0e6d2"/>
<polygon points="956,84.76 958,84.62 960,84.55 958.36,134.88 956.35,135.49 954.35,136.1" fill="#8ce6e6" stroke="#8ce6e6"/>
<polygon points="960,84.55 962,84.53 964,84.58 962.38,133.65 960.37,134.26 958.36,134.88" fill="#78e6e6" stroke="#78e6e6"/>
<polygon points="964,84.58 966,84.72 968,85.02 966.42,132.41 964.4,133.03 962.38,133.65" fill="#64e6e6" stroke="#64e6e6"/>
<polygon points="968,85.02 970,85.49 972,86.12 970.48,131.17 968.45,131.79 966.42,132.41" fill="#50e6e6" stroke="#50e6e6"/>
<polygon points="972,86.12 975,87.22 973.54,130.24 970.48,131.17" fill="#28e6e6" stroke="#28e6e6"/>
<polygon points="975,87.22 978,88.45 976.6,129.3 973.54,130.24" fill="#00b4f0" stroke="#00b4f0"/>
<polygon points="978,88.45 980,89.37 982,90.32 980.7,128.05 978.65,128.68 976.6,129.3" fill="#00a0f0" stroke="#00a0f0"/>
<polygon points="982,90.32 984.5,91.56 983.26,127.27 980.7,128.05" fill="#00d2f0" stroke="#00d2f0"/>
</g>
<g stroke-width="0.7">
<line x1="81" y1="354.28" x2="83.41" y2="402.2" stroke="#03ae03"/>
<line x1="103.4" y1="347.23" x2="105.71" y2="395.38" stroke="#11b40f"/>
<line x1="120.9" y1="341.82" x2="123.14" y2="390.06" stroke="#2bb626"/>
<line x1="129.6" y1="338.98" x2="131.81" y2="387.41" stroke="#41b63a"/>
<line x1="137.1" y1="336.41" x2="139.28" y2="385.13" stroke="#5fb654"/>
<line x1="148" y1="332.39" x2="150.16" y2="381.8" stroke="#9bb66a"/>
<line x1="155.4" y1="329.8" x2="157.54" y2="379.55" stroke="#bdb669"/>
<line x1="177.6" y1="319.92" x2="179.76" y2="372.76" stroke="#bdb66a"/>
<line x1="204.3" y1="308.25" x2="206.46" y2="364.6" stroke="#9bb66a"/>
<line x1="209" y1="306.28" x2="211.16" y2="363.17" stroke="#5fb63d"/>
<line x1="216" y1="303.67" x2="218.14" y2="361.04" stroke="#1ab117"/>
<line x1="224.75" y1="301.04" x2="226.84" y2="358.38" stroke="#1ab617"/>
<line x1="232.75" y1="299.38" x2="234.77" y2="355.95" stroke="#34b63d"/>
<line x1="238.6" y1="298.33" x2="240.56" y2="354.18" stroke="#45b65b"/>
<line x1="244" y1="297.19" x2="245.91" y2="352.55" stroke="#67b681"/>
<line x1="252.75" y1="295.91" x2="254.57" y2="349.9" stroke="#78b6a0"/>
<line x1="259" y1="295.04" x2="260.75" y2="348.01" stroke="#78b6af"/>
<line x1="262" y1="294.68" x2="263.72" y2="347.11" stroke="#67b6af"/>
<line x1="265" y1="294.34" x2="266.69" y2="346.2" stroke="#56b6af"/>
<line x1="268" y1="294.06" x2="269.65" y2="345.3" stroke="#45b6af"/>
<line x1="272" y1="293.85" x2="273.6" y2="344.09" stroke="#22b6af"/>
<line x1="276" y1="293.81" x2="277.55" y2="342.88" stroke="#00b6af"/>
<line x1="280" y1="294.08" x2="281.48" y2="341.68" stroke="#00a6b6"/>
<line x1="283" y1="294.58" x2="284.42" y2="340.78" stroke="#008ec2"/>
<line x1="287" y1="295.75" x2="288.34" y2="339.59" stroke="#0072c2"/>
<line x1="291" y1="297.72" x2="292.22" y2="338.4" stroke="#0058c2"/>
<line x1="296" y1="300.78" x2="297.07" y2="336.92" stroke="#004dc2"/>
<line x1="306" y1="306.04" x2="306.8" y2="333.95" stroke="#0034ba"/>
<line x1="317" y1="312.06" x2="317.51" y2="330.67" stroke="#003fc2"/>
<line x1="320" y1="313.3" x2="320.45" y2="329.78" stroke="#005fc2"/>
<line x1="324" y1="314.72" x2="324.37" y2="328.58" stroke="#007eb6"/>
<line x1="328" y1="315.93" x2="328.3" y2="327.38" stroke="#00a4b6"/>
<line x1="333" y1="316.89" x2="333.23" y2="325.87" stroke="#22b6af"/>
<line x1="338" y1="317.23" x2="338.18" y2="324.36" stroke="#56b6af"/>
<line x1="342" y1="317.02" x2="342.15" y2="323.14" stroke="#45b6a0"/>
<line x1="345.5" y1="316.68" x2="345.63" y2="322.08" stroke="#67b689"/>
<line x1="349" y1="316.01" x2="349.12" y2="321.01" stroke="#67b67a"/>
<line x1="351" y1="315.59" x2="351.12" y2="320.41" stroke="#22b61e"/>
<line x1="356" y1="314.34" x2="356.11" y2="318.88" stroke="#34b62e"/>
<line x1="375.75" y1="306.56" x2="375.89" y2="312.84" stroke="#45b63d"/>
<line x1="392.6" y1="299.66" x2="392.76" y2="307.68" stroke="#78b65b"/>
<line x1="402" y1="295.58" x2="402.18" y2="304.8" stroke="#9bb66a"/>
<line x1="414.5" y1="289.88" x2="414.7" y2="300.98" stroke="#bdb66a"/>
<line x1="426" y1="284.43" x2="426.22" y2="297.46" stroke="#c6b65b"/>
<line x1="432.9" y1="281.2" x2="433.13" y2="295.35" stroke="#c6b64c"/>
<line x1="440.4" y1="277.01" x2="440.65" y2="293.05" stroke="#c6b63d"/>
<line x1="444" y1="274.82" x2="444.27" y2="291.95" stroke="#c6b635"/>
<line x1="448.5" y1="272.16" x2="448.78" y2="290.57" stroke="#c6b62e"/>
<line x1="452.25" y1="269.85" x2="452.54" y2="289.42" stroke="#caba1e"/>
<line x1="456.6" y1="266.93" x2="456.9" y2="288.08" stroke="#cebe0f"/>
<line x1="462.9" y1="262.52" x2="463.22" y2="286.15" stroke="#cebe08"/>
<line x1="474.75" y1="254.2" x2="475.11" y2="282.52" stroke="#cebe00"/>
<line x1="490" y1="242.58" x2="490.39" y2="277.85" stroke="#d0bf08"/>
<line x1="501" y1="231.87" x2="501.43" y2="274.48" stroke="#caba1e"/>
<line x1="513" y1="223.6" x2="513.43" y2="270.82" stroke="#c6b63d"/>
<line x1="518" y1="220.96" x2="518.41" y2="269.29" stroke="#c6b65b"/>
<line x1="522" y1="218.91" x2="522.4" y2="268.07" stroke="#9bb66a"/>
<line x1="526" y1="217.14" x2="526.39" y2="266.86" stroke="#09ae08"/>
<line x1="532" y1="215.51" x2="532.36" y2="265.03" stroke="#45b67a"/>
<line x1="533" y1="215.29" x2="533.35" y2="264.73" stroke="#67b689"/>
<line x1="535" y1="214.95" x2="535.34" y2="264.12" stroke="#8ab6af"/>
<line x1="538" y1="214.72" x2="538.32" y2="263.21" stroke="#67b6a0"/>
<line x1="541" y1="214.76" x2="541.3" y2="262.3" stroke="#56b6af"/>
<line x1="543" y1="214.94" x2="543.29" y2="261.69" stroke="#45b6af"/>
<line x1="546" y1="215.46" x2="546.27" y2="260.78" stroke="#00b6b6"/>
<line x1="549" y1="216.27" x2="549.25" y2="259.87" stroke="#00a6b6"/>
<line x1="552" y1="217.2" x2="552.22" y2="258.96" stroke="#008ec2"/>
<line x1="555" y1="218.21" x2="555.2" y2="258.05" stroke="#0076c2"/>
<line x1="565" y1="221.7" x2="565.14" y2="255.02" stroke="#008eb6"/>
<line x1="570" y1="222.91" x2="570.11" y2="253.5" stroke="#1ab6b6"/>
<line x1="578" y1="224.06" x2="578.08" y2="251.06" stroke="#45b6af"/>
<line x1="582" y1="224.29" x2="582.06" y2="249.84" stroke="#67b6af"/>
<line x1="585" y1="224.33" x2="585.06" y2="248.93" stroke="#78b6af"/>
<line x1="588" y1="224.23" x2="588.05" y2="248.02" stroke="#8ab6a0"/>
<line x1="590" y1="224.08" x2="590.04" y2="247.41" stroke="#67b67a"/>
<line x1="593" y1="223.63" x2="593.03" y2="246.49" stroke="#22b61e"/>
<line x1="596" y1="222.77" x2="596.03" y2="245.58" stroke="#09ae08"/>
<line x1="599" y1="221.59" x2="599.02" y2="244.66" stroke="#45b63d"/>
<line x1="602" y1="220.27" x2="602.02" y2="243.75" stroke="#78b66a"/>
<line x1="605" y1="218.75" x2="605.01" y2="242.83" stroke="#bdb66a"/>
<line x1="608" y1="217.07" x2="608" y2="241.92" stroke="#c6b65b"/>
<line x1="611" y1="215.45" x2="611" y2="241.01" stroke="#c6b64c"/>
<line x1="615" y1="213.07" x2="614.98" y2="239.79" stroke="#c6b63d"/>
<line x1="628" y1="202.94" x2="627.94" y2="235.83" stroke="#caba1e"/>
<line x1="634" y1="198.9" x2="633.92" y2="234" stroke="#cebe00"/>
<line x1="642" y1="193.69" x2="641.88" y2="231.57" stroke="#c6b63d"/>
<line x1="645" y1="191.65" x2="644.87" y2="230.66" stroke="#c6b64c"/>
<line x1="648" y1="189.6" x2="647.85" y2="229.74" stroke="#c6b65b"/>
<line x1="653" y1="186.48" x2="652.83" y2="228.22" stroke="#bdb66a"/>
<line x1="662" y1="181.99" x2="661.78" y2="225.49" stroke="#c6b63d"/>
<line x1="669" y1="177.58" x2="668.74" y2="223.36" stroke="#c6b64c"/>
<line x1="676" y1="172.18" x2="675.69" y2="221.24" stroke="#c6b63d"/>
<line x1="681" y1="168.71" x2="680.66" y2="219.72" stroke="#c6b65b"/>
<line x1="684" y1="167.1" x2="683.64" y2="218.81" stroke="#bdb66a"/>
<line x1="688" y1="165.96" x2="687.62" y2="217.59" stroke="#78b66a"/>
<line x1="690" y1="165.61" x2="689.61" y2="216.99" stroke="#45b63d"/>
<line x1="692" y1="165.23" x2="691.6" y2="216.38" stroke="#09ae08"/>
<line x1="697" y1="164.05" x2="696.58" y2="214.86" stroke="#22b61e"/>
<line x1="700" y1="163.4" x2="699.57" y2="213.94" stroke="#67b689"/>
<line x1="703" y1="162.83" x2="702.56" y2="213.03" stroke="#8ab6a0"/>
<line x1="706" y1="162.34" x2="705.55" y2="212.12" stroke="#6eb6aa"/>
<line x1="712" y1="161.66" x2="711.53" y2="210.29" stroke="#78b6a0"/>
<line x1="717" y1="161.3" x2="716.52" y2="208.76" stroke="#67b689"/>
<line x1="720" y1="161.13" x2="719.52" y2="207.85" stroke="#45b65b"/>
<line x1="724" y1="160.87" x2="723.51" y2="206.63" stroke="#09ae08"/>
<line x1="729" y1="160.5" x2="728.5" y2="205.1" stroke="#22b61e"/>
<line x1="733" y1="159.48" x2="732.49" y2="203.89" stroke="#45b63d"/>
<line x1="737" y1="157.43" x2="736.46" y2="202.67" stroke="#78b66a"/>
<line x1="740" y1="155.53" x2="739.43" y2="201.76" stroke="#bdb66a"/>
<line x1="744" y1="152.37" x2="743.39" y2="200.55" stroke="#c6b65b"/>
<line x1="749" y1="148.51" x2="748.34" y2="199.04" stroke="#c6b64c"/>
<line x1="757" y1="143.23" x2="756.26" y2="196.62" stroke="#c6b65b"/>
<line x1="770" y1="136.63" x2="769.16" y2="192.68" stroke="#bdb66a"/>
<line x1="773" y1="135.4" x2="772.14" y2="191.77" stroke="#9bb66a"/>
<line x1="776" y1="134.28" x2="775.12" y2="190.86" stroke="#45b63d"/>
<line x1="779" y1="133.19" x2="778.1" y2="189.95" stroke="#22b61e"/>
<line x1="781.5" y1="132.33" x2="780.59" y2="189.19" stroke="#09ae08"/>
<line x1="786" y1="131.16" x2="785.06" y2="187.82" stroke="#45b63d"/>
<line x1="790" y1="130.52" x2="789.05" y2="186.6" stroke="#67b689"/>
<line x1="795" y1="130.11" x2="794.05" y2="185.08" stroke="#78b698"/>
<line x1="802" y1="129.72" x2="801.04" y2="182.94" stroke="#78b6a0"/>
<line x1="808" y1="129.07" x2="807.04" y2="181.11" stroke="#67b6af"/>
<line x1="813" y1="128.89" x2="812.04" y2="179.58" stroke="#56b6af"/>
<line x1="817" y1="128.95" x2="816.04" y2="178.36" stroke="#45b6af"/>
<line x1="823" y1="129.35" x2="822.06" y2="176.52" stroke="#67b6a0"/>
<line x1="829" y1="128.9" x2="828.06" y2="174.69" stroke="#45b65b"/>
<line x1="832" y1="128.47" x2="831.06" y2="173.77" stroke="#09ae08"/>
<line x1="836" y1="127.7" x2="835.05" y2="172.55" stroke="#45b63d"/>
<line x1="840" y1="126.67" x2="839.04" y2="171.33" stroke="#96b65d"/>
<line x1="859.5" y1="116.95" x2="858.37" y2="165.43" stroke="#67b65b"/>
<line x1="864" y1="114.71" x2="862.83" y2="164.06" stroke="#22b61e"/>
<line x1="866" y1="113.91" x2="864.82" y2="163.46" stroke="#09ae08"/>
<line x1="872" y1="111.91" x2="870.78" y2="161.63" stroke="#22b63d"/>
<line x1="875" y1="111.14" x2="873.77" y2="160.72" stroke="#45b661"/>
<line x1="889" y1="108.49" x2="887.75" y2="156.45" stroke="#09ae08"/>
<line x1="894" y1="107.09" x2="892.73" y2="154.93" stroke="#45b63d"/>
<line x1="896" y1="106.41" x2="894.72" y2="154.32" stroke="#9bb66a"/>
<line x1="897" y1="106.03" x2="895.72" y2="154.02" stroke="#c6b65b"/>
<line x1="909" y1="100.47" x2="907.61" y2="150.38" stroke="#bdb66a"/>
<line x1="913" y1="98.48" x2="911.57" y2="149.17" stroke="#c6b66a"/>
<line x1="917" y1="96.57" x2="915.53" y2="147.96" stroke="#bdb66a"/>
<line x1="921" y1="94.77" x2="919.49" y2="146.75" stroke="#78b66a"/>
<line x1="923" y1="93.8" x2="921.47" y2="146.15" stroke="#45b63d"/>
<line x1="926" y1="92.33" x2="924.44" y2="145.24" stroke="#22b61e"/>
<line x1="928" y1="91.4" x2="926.42" y2="144.63" stroke="#09b608"/>
<line x1="934" y1="88.93" x2="932.37" y2="142.81" stroke="#11b60f"/>
<line x1="943" y1="86.4" x2="941.34" y2="140.08" stroke="#22b63d"/>
<line x1="947" y1="85.72" x2="945.33" y2="138.86" stroke="#45b65b"/>
<line x1="951" y1="85.25" x2="949.34" y2="137.63" stroke="#67b67a"/>
<line x1="954" y1="84.94" x2="952.34" y2="136.71" stroke="#8ab6a0"/>
<line x1="956" y1="84.76" x2="954.35" y2="136.1" stroke="#78b6af"/>
<line x1="960" y1="84.55" x2="958.36" y2="134.88" stroke="#67b6af"/>
<line x1="964" y1="84.58" x2="962.38" y2="133.65" stroke="#56b6af"/>
<line x1="968" y1="85.02" x2="966.42" y2="132.41" stroke="#45b6af"/>
<line x1="972" y1="86.12" x2="970.48" y2="131.17" stroke="#22b6af"/>
<line x1="975" y1="87.22" x2="973.54" y2="130.24" stroke="#008eb6"/>
<line x1="978" y1="88.45" x2="976.6" y2="129.3" stroke="#007eb6"/>
<line x1="982" y1="90.32" x2="980.7" y2="128.05" stroke="#00a6b6"/>
</g>
<polygon points="45.6,413.75 192.2,368.96 192.2,373.45 45.6,418.5" fill="#dcdcdc"/>
<polygon points="192.2,368.96 325.1,328.35 325.1,332.61 192.2,373.45" fill="#2f2f2f"/>
<polygon points="325.1,328.35 446.9,291.14 446.9,295.18 325.1,332.61" fill="#dcdcdc"/>
<polygon points="446.9,291.14 558.75,256.97 558.75,260.81 446.9,295.18" fill="#2f2f2f"/>
<polygon points="558.75,256.97 661.7,225.51 661.7,229.18 558.75,260.81" fill="#dcdcdc"/>
<polygon points="661.7,225.51 756.6,196.52 756.6,200.02 661.7,229.18" fill="#2f2f2f"/>
<polygon points="756.6,196.52 844.4,169.69 844.4,173.04 756.6,200.02" fill="#dcdcdc"/>
<polygon points="844.4,169.69 925.6,144.88 925.6,148.08 844.4,173.04" fill="#2f2f2f"/>
<polygon points="925.6,144.88 982.5,127.5 982.5,130.6 925.6,148.08" fill="#dcdcdc"/>
<line x1="45.6" y1="418.2" x2="982.5" y2="130.3" stroke="#a8a8a8" stroke-width="0.7"/>
<line x1="982.5" y1="127.5" x2="982.5" y2="130.6" stroke="#a8a8a8" stroke-width="0.7"/>
<polygon points="29.3,360.6 43.1,364.8 45.6,413.75 32.6,410" fill="#a0a0a0" stroke="#8a8a8a" stroke-width="0.6"/>
<polygon points="32.6,410 45.6,413.75 45.6,418.5 33.1,414.4" fill="#b0b0b0" stroke="#8a8a8a" stroke-width="0.6"/>
<text x="45.6" y="435.1" text-anchor="middle" font-family="Liberation Sans" font-size="10.8" fill="#333" letter-spacing="-0.15">0km</text>
<text x="192.2" y="389.72" text-anchor="middle" font-family="Liberation Sans" font-size="10.8" fill="#333" letter-spacing="-0.15">0.25km</text>
<text x="325.1" y="348.58" text-anchor="middle" font-family="Liberation Sans" font-size="10.8" fill="#333" letter-spacing="-0.15">0.5km</text>
<text x="446.9" y="310.87" text-anchor="middle" font-family="Liberation Sans" font-size="10.8" fill="#333" letter-spacing="-0.15">0.75km</text>
<text x="558.75" y="276.25" text-anchor="middle" font-family="Liberation Sans" font-size="10.8" fill="#333" letter-spacing="-0.15">1km</text>
<text x="661.7" y="244.38" text-anchor="middle" font-family="Liberation Sans" font-size="10.8" fill="#333" letter-spacing="-0.15">1.25km</text>
<text x="756.6" y="215" text-anchor="middle" font-family="Liberation Sans" font-size="10.8" fill="#333" letter-spacing="-0.15">1.5km</text>
<text x="844.4" y="187.82" text-anchor="middle" font-family="Liberation Sans" font-size="10.8" fill="#333" letter-spacing="-0.15">1.75km</text>
<text x="925.6" y="162.68" text-anchor="middle" font-family="Liberation Sans" font-size="10.8" fill="#333" letter-spacing="-0.15">2km</text>
</svg><svg width="1024" height="512" viewBox="0 0 1024 512" style="position:absolute;left:0;top:0">
<polygon points="4.45,469.5 15.2,469.5 24,484.5 32.6,469.5 43,469.5 24,503.3" fill="#000"/>
<ellipse cx="52.40" cy="486.40" rx="17.2" ry="17.7" fill="#000"/>
<path d="M46.20,484 A6.6,7.1 0 0 1 59.40,484 Z" fill="#fff"/>
<path d="M46.20,490.6 C47.00,494 50.90,496 53.90,495.9 C57.40,495.8 59.90,494 61.70,491.4 L68.40,496.4 L71.40,503 L71.40,503 L71.40,490.6 Z" fill="#fff"/>
<rect x="69" y="455.3" width="11.6" height="48.2" fill="#000"/>
<circle cx="98.3" cy="486.5" r="17.5" fill="#000"/>
<circle cx="98.6" cy="486.6" r="7.6" fill="#fff"/>
<polygon points="103.6,467 107.6,467 128,506 124,506" fill="#fff"/>
<polygon points="107.6,469.7 117.9,469.7 126.5,484.3 134.9,469.7 145,469.7 126.5,503.9" fill="#ff0033"/>
<rect x="143.1" y="469.7" width="11.1" height="33.8" fill="#ff0033"/>
<circle cx="149" cy="461.1" r="5.9" fill="#ff0033"/>
<ellipse cx="171.60" cy="486.40" rx="17.2" ry="17.7" fill="#ff0033"/>
<path d="M165.40,484 A6.6,7.1 0 0 1 178.60,484 Z" fill="#fff"/>
<path d="M165.40,490.6 C166.20,494 170.10,496 173.10,495.9 C176.60,495.8 179.10,494 180.90,491.4 L187.60,496.4 L190.60,503 L190.60,503 L190.60,490.6 Z" fill="#fff"/>
<polygon points="182.7,469.5 194.5,469.5 199.3,486 203,469.5 214.9,469.5 219.2,486 223.5,469.5 235,469.5 225,503.5 214.3,503.5 209,488 203.1,503.5 192.9,503.5" fill="#ff0033"/>
<ellipse cx="247.30" cy="486.40" rx="17.2" ry="17.7" fill="#ff0033"/>
<path d="M241.10,484 A6.6,7.1 0 0 1 254.30,484 Z" fill="#fff"/>
<path d="M241.10,490.6 C241.90,494 245.80,496 248.80,495.9 C252.30,495.8 254.80,494 256.60,491.4 L263.30,496.4 L266.30,503 L266.30,503 L266.30,490.6 Z" fill="#fff"/>
<path d="M263.1,469.5 L275,469.5 L275,474 C277,470.5 281,469.5 285.7,469.5 L285.7,481.3 C279,481.3 275,484 275,490 L275,503.5 L263.1,503.5 Z" fill="#ff0033"/>
<path d="M321.3,488.2 C318.5,485.2 314.5,484 311.5,484.3 C307.5,484.6 305.6,487 305.8,489.6 C306.1,493 309.5,493.8 313.8,494.8 C316.5,495.4 317.5,496 317.4,497.3 C317.2,499 312.8,499.3 309.5,497.2 L306.8,496.3 L304.8,500.5 C308,503.2 312,503.9 315,503.8 C320,503.6 323.8,501.3 323.6,497.2 C323.4,493.4 320,492.3 315.5,491.3 C313,490.7 311.8,490.2 312,489.2 C312.3,487.5 316,487.4 318.5,489.6 Z" fill="#fc4c02"/>
<polygon points="323,483.9 341.1,483.9 341.1,489.8 335.4,489.8 335.4,503.5 329.1,503.5 329.1,489.8 323,489.8" fill="#fc4c02"/>
<path d="M342.2,483.9 L352.5,483.9 C357.5,483.9 360,486.5 360,489.8 C360,492.8 358.5,494.6 356,495.6 L361,503.5 L354,503.5 L350,496.3 L348.5,496.3 L348.5,503.5 L342.2,503.5 Z M348.5,488.8 L348.5,491.6 L352,491.6 C353.5,491.6 354,490.9 354,490.2 C354,489.5 353.5,488.8 352,488.8 Z" fill="#fc4c02" fill-rule="evenodd"/>
<polygon points="369.6,483.3 379.4,503.5 373.1,503.5 369.6,495.3 364.9,503.5 359.5,503.5" fill="#fc4c02"/>
<polygon points="373.1,483.9 379.7,483.9 383.5,492.3 387.9,483.9 394.2,483.9 383.5,504.6" fill="#fc4c02"/>
<polygon points="398.6,483.3 408.7,503.5 402.1,503.5 398.6,495.3 393.9,503.5 388.2,503.5" fill="#fc4c02"/>
</svg>
<div class="t" id="title">Orbea-cup by Ajopyörä - 2021</div>
<div class="t" id="sub">2.2 km at -0.1%</div>
<div id="bar"></div>
<div class="lg" style="top:367px">25%</div>
<div class="lg" style="top:405px">10%</div>
<div class="lg" style="top:431px">0%</div>
<div class="lg" style="top:456px">-10%</div>
<div class="lg" style="top:495px">-25%</div>
<div id="pw">POWERED BY</div>
</body></html>
